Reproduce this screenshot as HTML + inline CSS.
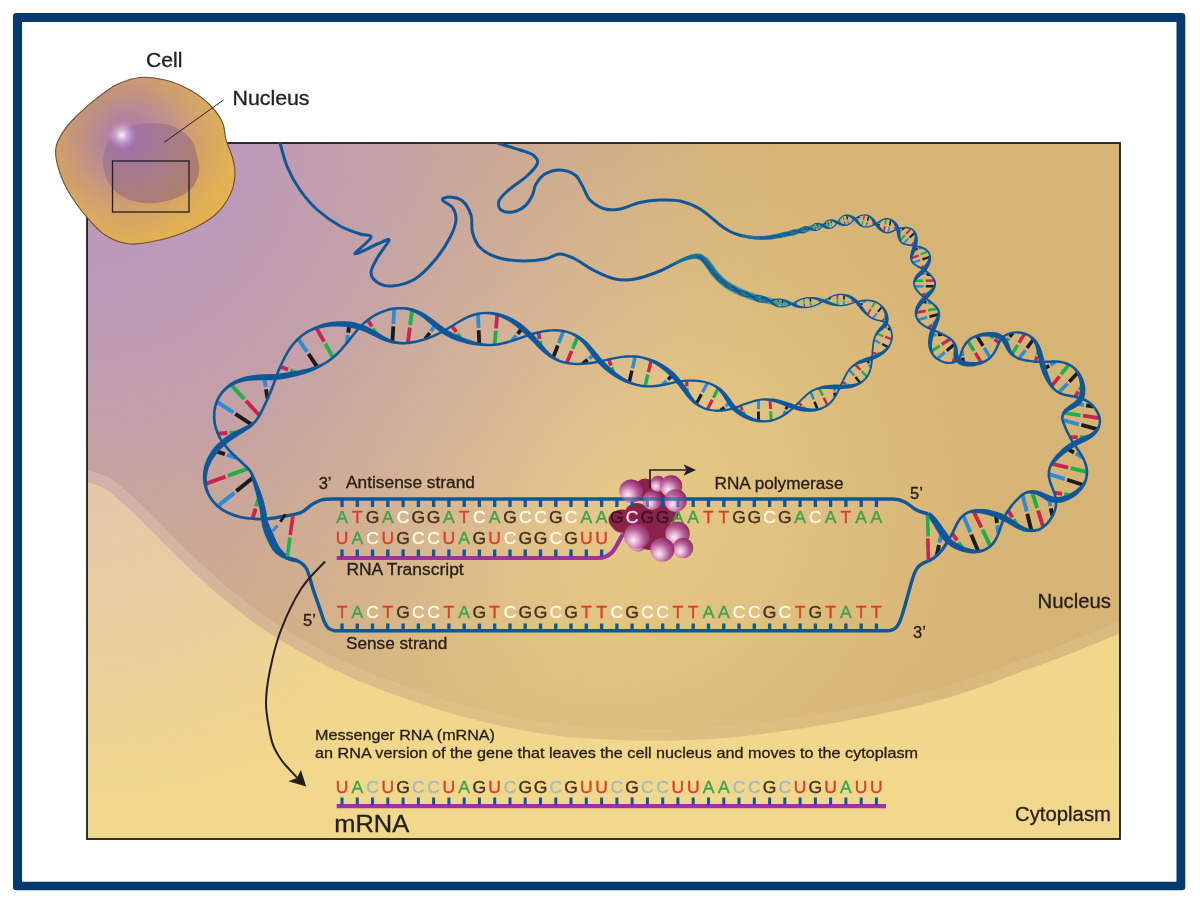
<!DOCTYPE html><html><head><meta charset="utf-8"><title>Transcription</title><style>html,body{margin:0;padding:0;background:#fff}body{width:1200px;height:900px;overflow:hidden}svg{display:block;opacity:.999;will-change:transform}text{font-family:"Liberation Sans",sans-serif}</style></head><body><svg width="1200" height="900" viewBox="0 0 1200 900"><defs><clipPath id="box"><rect x="87" y="143" width="1033" height="696"/></clipPath><linearGradient id="cyto" x1="0" y1="0" x2="0" y2="1"><stop offset="0" stop-color="#f0d488"/><stop offset="0.6" stop-color="#f0d68a"/><stop offset="1" stop-color="#f1d88d"/></linearGradient><radialGradient id="nuc" gradientUnits="userSpaceOnUse" cx="610" cy="500" r="640"><stop offset="0" stop-color="#e8ca87"/><stop offset="0.08" stop-color="#e6c885"/><stop offset="0.31" stop-color="#dfc07f"/><stop offset="0.39" stop-color="#dcbc7c"/><stop offset="0.61" stop-color="#d6b475"/><stop offset="1" stop-color="#d5b475"/></radialGradient><linearGradient id="bandg" gradientUnits="userSpaceOnUse" x1="87" y1="0" x2="1120" y2="0"><stop offset="0" stop-color="#ffeedd" stop-opacity="0.2"/><stop offset="0.3" stop-color="#ffeedd" stop-opacity="0.1"/><stop offset="0.55" stop-color="#ffeedd" stop-opacity="0.06"/><stop offset="1" stop-color="#ffe8d0" stop-opacity="0.12"/></linearGradient><radialGradient id="purp" gradientUnits="userSpaceOnUse" cx="87" cy="143" r="700"><stop offset="0" stop-color="#ae8ae0" stop-opacity="0.68"/><stop offset="0.25" stop-color="#ae8ae0" stop-opacity="0.61"/><stop offset="0.45" stop-color="#ae8ae0" stop-opacity="0.44"/><stop offset="0.52" stop-color="#ae8ae0" stop-opacity="0.36"/><stop offset="0.69" stop-color="#ae8ae0" stop-opacity="0.21"/><stop offset="0.88" stop-color="#ae8ae0" stop-opacity="0.05"/><stop offset="1" stop-color="#ae8ae0" stop-opacity="0"/></radialGradient><radialGradient id="cpink" gradientUnits="userSpaceOnUse" cx="87" cy="440" r="360"><stop offset="0" stop-color="#d7b5d5" stop-opacity="0.5"/><stop offset="0.5" stop-color="#d7b5d5" stop-opacity="0.28"/><stop offset="1" stop-color="#d7b5d5" stop-opacity="0"/></radialGradient><radialGradient id="cellg" gradientUnits="userSpaceOnUse" cx="128" cy="140" r="105"><stop offset="0" stop-color="#a673b4"/><stop offset="0.3" stop-color="#b88a9c"/><stop offset="0.62" stop-color="#d0a070"/><stop offset="1" stop-color="#e4b454"/></radialGradient><linearGradient id="cellsh" x1="0" y1="0" x2="1" y2="1"><stop offset="0" stop-color="#b08060" stop-opacity="0.35"/><stop offset="0.5" stop-color="#c09060" stop-opacity="0"/><stop offset="1" stop-color="#f0c040" stop-opacity="0.45"/></linearGradient><radialGradient id="cnuc" gradientUnits="userSpaceOnUse" cx="128" cy="138" r="85"><stop offset="0" stop-color="#9e70b2"/><stop offset="0.4" stop-color="#a4788f"/><stop offset="1" stop-color="#ab7b68"/></radialGradient><radialGradient id="hl"><stop offset="0" stop-color="#fff" stop-opacity="0.95"/><stop offset="0.35" stop-color="#f0d8f4" stop-opacity="0.6"/><stop offset="1" stop-color="#c090d0" stop-opacity="0"/></radialGradient><radialGradient id="sph" cx="0.36" cy="0.66" r="0.7"><stop offset="0" stop-color="#fdeef6"/><stop offset="0.25" stop-color="#e4b4d2"/><stop offset="0.62" stop-color="#b55a94"/><stop offset="1" stop-color="#8e2a64"/></radialGradient></defs><rect x="13" y="13" width="1172.3" height="877.3" rx="3.2" fill="#063a6f"/><rect x="22" y="22" width="1154.5" height="859.7" rx="0.6" fill="#fff"/><g clip-path="url(#box)"><rect x="87" y="143" width="1033" height="696" fill="url(#cyto)"/><rect x="87" y="143" width="1033" height="696" fill="url(#cpink)"/><path d="M45.2 462.4L51.9 465.5L58.8 468.8L65.7 472L72.4 475.1L78.7 478L84.5 480.6L89.5 482.6L93.8 484.1L97.1 485.2L99.7 486.1L102 487.1L104.9 488.7L108.3 491.1L112.2 494L116.2 497.4L120.5 501.1L124.9 505L129.2 509L133.5 513L137.9 517.2L142.3 521.6L146.8 526.1L151.3 530.6L155.9 535.1L160.4 539.6L164.9 544.2L169.4 548.7L173.9 553.3L178.5 557.9L183 562.3L187.5 566.5L191.8 570.7L196.2 574.7L200.6 578.7L205 582.7L209.4 586.6L213.9 590.6L218.5 594.5L223.1 598.3L227.7 602.1L232.3 605.9L236.9 609.5L241.5 613.1L246.1 616.7L250.7 620.1L255.3 623.5L259.9 626.8L264.5 630L269 633L273.4 635.8L277.6 638.4L282 641L286.5 643.7L291.2 646.4L296.2 649.4L301.4 652.4L306.9 655.6L312.7 658.8L318.6 662.1L324.8 665.3L331.3 668.4L338 671.6L344.9 674.7L351.8 677.8L358.8 680.8L365.6 683.6L372.4 686.4L379.2 689L386 691.6L392.7 694.1L399.5 696.5L406.2 698.9L412.9 701.2L419.7 703.5L426.4 705.7L433.2 707.9L440 710L446.8 712L453.5 714L460.3 715.9L467.1 717.7L473.9 719.4L480.6 721.1L487.3 722.7L494.1 724.3L500.8 725.8L507.6 727.3L514.4 728.7L521.2 730.1L528 731.3L534.7 732.5L541.2 733.5L547.8 734.5L554.5 735.4L561.5 736.2L568.9 736.9L576.9 737.6L585.3 738.3L594 738.8L602.8 739.3L611.3 739.7L619.6 740L627.5 740.2L635.2 740.4L642.7 740.5L650.2 740.6L657.6 740.6L665.1 740.5L672.7 740.4L680.4 740.2L688 740L695.6 739.7L703.2 739.4L710.7 739L718.1 738.5L725.3 737.9L732.5 737.3L739.6 736.6L746.9 735.8L754.3 734.9L762 734L769.9 733L777.8 731.9L785.8 730.8L793.8 729.6L801.8 728.4L809.7 727.1L817.6 725.8L825.5 724.5L833.4 723.2L841.3 721.8L849.1 720.3L856.9 718.8L864.6 717.3L872.3 715.7L880 714.1L887.8 712.4L895.5 710.7L903.4 708.9L911.5 707.1L919.6 705.1L927.6 703.2L935.5 701.1L943.1 699.1L950.4 697L957.3 694.8L964 692.6L970.6 690.4L977.2 688.2L983.8 685.8L990.5 683.5L997 681L1003.5 678.6L1010 676.1L1016.8 673.5L1024 670.8L1031.7 668L1039.8 665L1048.3 661.9L1057 658.8L1065.6 655.5L1074.2 652.2L1082.8 648.8L1091.4 645.3L1100.1 641.7L1108.6 638.1L1116.9 634.5L1124.7 631L1132.1 627.6L1139.1 624.2L1145.7 621L1152.2 617.7L1158.6 614.5L1165.1 611.3L1170 100L50 100Z" fill="url(#nuc)"/><path d="M45.2 462.4L51.9 465.5L58.8 468.8L65.7 472L72.4 475.1L78.7 478L84.5 480.6L89.5 482.6L93.8 484.1L97.1 485.2L99.7 486.1L102 487.1L104.9 488.7L108.3 491.1L112.2 494L116.2 497.4L120.5 501.1L124.9 505L129.2 509L133.5 513L137.9 517.2L142.3 521.6L146.8 526.1L151.3 530.6L155.9 535.1L160.4 539.6L164.9 544.2L169.4 548.7L173.9 553.3L178.5 557.9L183 562.3L187.5 566.5L191.8 570.7L196.2 574.7L200.6 578.7L205 582.7L209.4 586.6L213.9 590.6L218.5 594.5L223.1 598.3L227.7 602.1L232.3 605.9L236.9 609.5L241.5 613.1L246.1 616.7L250.7 620.1L255.3 623.5L259.9 626.8L264.5 630L269 633L273.4 635.8L277.6 638.4L282 641L286.5 643.7L291.2 646.4L296.2 649.4L301.4 652.4L306.9 655.6L312.7 658.8L318.6 662.1L324.8 665.3L331.3 668.4L338 671.6L344.9 674.7L351.8 677.8L358.8 680.8L365.6 683.6L372.4 686.4L379.2 689L386 691.6L392.7 694.1L399.5 696.5L406.2 698.9L412.9 701.2L419.7 703.5L426.4 705.7L433.2 707.9L440 710L446.8 712L453.5 714L460.3 715.9L467.1 717.7L473.9 719.4L480.6 721.1L487.3 722.7L494.1 724.3L500.8 725.8L507.6 727.3L514.4 728.7L521.2 730.1L528 731.3L534.7 732.5L541.2 733.5L547.8 734.5L554.5 735.4L561.5 736.2L568.9 736.9L576.9 737.6L585.3 738.3L594 738.8L602.8 739.3L611.3 739.7L619.6 740L627.5 740.2L635.2 740.4L642.7 740.5L650.2 740.6L657.6 740.6L665.1 740.5L672.7 740.4L680.4 740.2L688 740L695.6 739.7L703.2 739.4L710.7 739L718.1 738.5L725.3 737.9L732.5 737.3L739.6 736.6L746.9 735.8L754.3 734.9L762 734L769.9 733L777.8 731.9L785.8 730.8L793.8 729.6L801.8 728.4L809.7 727.1L817.6 725.8L825.5 724.5L833.4 723.2L841.3 721.8L849.1 720.3L856.9 718.8L864.6 717.3L872.3 715.7L880 714.1L887.8 712.4L895.5 710.7L903.4 708.9L911.5 707.1L919.6 705.1L927.6 703.2L935.5 701.1L943.1 699.1L950.4 697L957.3 694.8L964 692.6L970.6 690.4L977.2 688.2L983.8 685.8L990.5 683.5L997 681L1003.5 678.6L1010 676.1L1016.8 673.5L1024 670.8L1031.7 668L1039.8 665L1048.3 661.9L1057 658.8L1065.6 655.5L1074.2 652.2L1082.8 648.8L1091.4 645.3L1100.1 641.7L1108.6 638.1L1116.9 634.5L1124.7 631L1132.1 627.6L1139.1 624.2L1145.7 621L1152.2 617.7L1158.6 614.5L1165.1 611.3L1170 100L50 100Z" fill="url(#purp)"/><path d="M45.2 462.4L51.9 465.5L58.8 468.8L65.7 472L72.4 475.1L78.7 478L84.5 480.6L89.5 482.6L93.8 484.1L97.1 485.2L99.7 486.1L102 487.1L104.9 488.7L108.3 491.1L112.2 494L116.2 497.4L120.5 501.1L124.9 505L129.2 509L133.5 513L137.9 517.2L142.3 521.6L146.8 526.1L151.3 530.6L155.9 535.1L160.4 539.6L164.9 544.2L169.4 548.7L173.9 553.3L178.5 557.9L183 562.3L187.5 566.5L191.8 570.7L196.2 574.7L200.6 578.7L205 582.7L209.4 586.6L213.9 590.6L218.5 594.5L223.1 598.3L227.7 602.1L232.3 605.9L236.9 609.5L241.5 613.1L246.1 616.7L250.7 620.1L255.3 623.5L259.9 626.8L264.5 630L269 633L273.4 635.8L277.6 638.4L282 641L286.5 643.7L291.2 646.4L296.2 649.4L301.4 652.4L306.9 655.6L312.7 658.8L318.6 662.1L324.8 665.3L331.3 668.4L338 671.6L344.9 674.7L351.8 677.8L358.8 680.8L365.6 683.6L372.4 686.4L379.2 689L386 691.6L392.7 694.1L399.5 696.5L406.2 698.9L412.9 701.2L419.7 703.5L426.4 705.7L433.2 707.9L440 710L446.8 712L453.5 714L460.3 715.9L467.1 717.7L473.9 719.4L480.6 721.1L487.3 722.7L494.1 724.3L500.8 725.8L507.6 727.3L514.4 728.7L521.2 730.1L528 731.3L534.7 732.5L541.2 733.5L547.8 734.5L554.5 735.4L561.5 736.2L568.9 736.9L576.9 737.6L585.3 738.3L594 738.8L602.8 739.3L611.3 739.7L619.6 740L627.5 740.2L635.2 740.4L642.7 740.5L650.2 740.6L657.6 740.6L665.1 740.5L672.7 740.4L680.4 740.2L688 740L695.6 739.7L703.2 739.4L710.7 739L718.1 738.5L725.3 737.9L732.5 737.3L739.6 736.6L746.9 735.8L754.3 734.9L762 734L769.9 733L777.8 731.9L785.8 730.8L793.8 729.6L801.8 728.4L809.7 727.1L817.6 725.8L825.5 724.5L833.4 723.2L841.3 721.8L849.1 720.3L856.9 718.8L864.6 717.3L872.3 715.7L880 714.1L887.8 712.4L895.5 710.7L903.4 708.9L911.5 707.1L919.6 705.1L927.6 703.2L935.5 701.1L943.1 699.1L950.4 697L957.3 694.8L964 692.6L970.6 690.4L977.2 688.2L983.8 685.8L990.5 683.5L997 681L1003.5 678.6L1010 676.1L1016.8 673.5L1024 670.8L1031.7 668L1039.8 665L1048.3 661.9L1057 658.8L1065.6 655.5L1074.2 652.2L1082.8 648.8L1091.4 645.3L1100.1 641.7L1108.6 638.1L1116.9 634.5L1124.7 631L1132.1 627.6L1139.1 624.2L1145.7 621L1152.2 617.7L1158.6 614.5L1165.1 611.3L1170 100L50 100Z" fill="url(#bandg)"/><path d="M50 452C56.5 455 78.8 465.5 89 470C99.2 474.5 103 473.9 111 479C119 484.1 128.2 492.5 137 500.5C145.8 508.5 155 518.1 164 527C173 535.9 182.2 545.5 191 554C199.8 562.5 208.2 570.2 217 578C225.8 585.8 235 593.4 244 600.5C253 607.6 262.2 614.5 271 620.5C279.8 626.5 287.2 630.8 297 636.5C306.8 642.2 317.8 648.9 330 655C342.2 661.1 356.7 667.5 370 673C383.3 678.5 396.7 683.3 410 688C423.3 692.7 436.7 697.1 450 701C463.3 704.9 476.7 708.3 490 711.5C503.3 714.7 516.7 717.7 530 720C543.3 722.3 555 724.1 570 725.5C585 726.9 604.2 727.9 620 728.5C635.8 729.1 650 729.2 665 729C680 728.8 695.3 728.4 710 727.5C724.7 726.6 738 725.2 753 723.5C768 721.8 784.3 719.4 800 717C815.7 714.6 831.5 711.9 847 709C862.5 706.1 877.5 703 893 699.5C908.5 696 925.5 692.1 940 688C954.5 683.9 966.7 679.7 980 675C993.3 670.3 1005 665.6 1020 660C1035 654.4 1053.3 648.1 1070 641.5C1086.7 634.9 1105 627.2 1120 620.5C1135 613.8 1153.3 604.2 1160 601L1170 100L50 100Z" fill="url(#nuc)"/><path d="M50 452C56.5 455 78.8 465.5 89 470C99.2 474.5 103 473.9 111 479C119 484.1 128.2 492.5 137 500.5C145.8 508.5 155 518.1 164 527C173 535.9 182.2 545.5 191 554C199.8 562.5 208.2 570.2 217 578C225.8 585.8 235 593.4 244 600.5C253 607.6 262.2 614.5 271 620.5C279.8 626.5 287.2 630.8 297 636.5C306.8 642.2 317.8 648.9 330 655C342.2 661.1 356.7 667.5 370 673C383.3 678.5 396.7 683.3 410 688C423.3 692.7 436.7 697.1 450 701C463.3 704.9 476.7 708.3 490 711.5C503.3 714.7 516.7 717.7 530 720C543.3 722.3 555 724.1 570 725.5C585 726.9 604.2 727.9 620 728.5C635.8 729.1 650 729.2 665 729C680 728.8 695.3 728.4 710 727.5C724.7 726.6 738 725.2 753 723.5C768 721.8 784.3 719.4 800 717C815.7 714.6 831.5 711.9 847 709C862.5 706.1 877.5 703 893 699.5C908.5 696 925.5 692.1 940 688C954.5 683.9 966.7 679.7 980 675C993.3 670.3 1005 665.6 1020 660C1035 654.4 1053.3 648.1 1070 641.5C1086.7 634.9 1105 627.2 1120 620.5C1135 613.8 1153.3 604.2 1160 601L1170 100L50 100Z" fill="url(#purp)"/></g><rect x="87" y="143" width="1033" height="696" fill="none" stroke="#1f1b1a" stroke-width="1.8"/><g clip-path="url(#box)"><path d="M280 143C281.2 147.1 284.2 159.7 287.5 167.5C290.8 175.3 295 182.9 300 190C305 197.1 310.8 204 317.5 210C324.2 216 332.9 222 340 226C347.1 230 354.8 232.1 360 234C365.2 235.9 371.8 234.2 371 237.5C370.2 240.8 353.9 252.9 355 254C356.1 255.1 371.8 246.3 377.5 244C383.2 241.7 389 237.8 389 240C389 242.2 380.5 252.1 377.5 257.5C374.5 262.9 371 268.3 371 272.5C371 276.7 373.9 280.2 377.5 282.5C381.1 284.8 386.2 286.6 392.5 286C398.8 285.4 407.9 283.3 415 279C422.1 274.7 429.2 266.9 435 260C440.8 253.1 446.5 244.2 450 237.5C453.5 230.8 455.6 225 456 220C456.4 215 454.8 210.8 452.5 207.5C450.2 204.2 442.9 201.8 442.5 200C442.1 198.2 446.7 196.8 450 197C453.3 197.2 459 198 462.5 201C466 204 469.3 209.8 471 215C472.7 220.2 471 227.1 472.5 232.5C474 237.9 475.8 243.3 480 247.5C484.2 251.7 490.4 255.2 497.5 257.5C504.6 259.8 514.6 260.8 522.5 261C530.4 261.2 538.8 260.2 545 259C551.2 257.8 555 254 560 254C565 254 569.2 256.2 575 259C580.8 261.8 588.3 267.7 595 271C601.7 274.3 608.3 277.7 615 279C621.7 280.3 627.5 280.3 635 279C642.5 277.7 652.5 274 660 271C667.5 268 674.7 263.4 680 261C685.3 258.6 688.8 257.6 692 256.8C695.2 256.1 696.8 255.9 699 256.5C701.2 257.1 703.2 258.8 705 260.5C706.8 262.2 709.2 265.9 710 267" fill="none" stroke="#0f5799" stroke-width="3" stroke-linecap="round" stroke-linejoin="round"/><path d="M497.5 143C501.2 144.2 514.1 148 520 150C525.9 152 530.1 152.8 533 155C535.9 157.2 538.4 159.6 537.5 163C536.6 166.4 532.5 170.8 527.5 175.5C522.5 180.2 512.2 186.8 507.5 191C502.8 195.2 500.1 197.8 499 201C497.9 204.2 498.8 208.2 501 210C503.2 211.8 508.5 212.7 512.5 212C516.5 211.3 521.7 208.8 525 206C528.3 203.2 530.7 198.7 532.5 195C534.3 191.3 533.9 187.5 536 184C538.1 180.5 541 176.3 545 174C549 171.7 555 169.8 560 170C565 170.2 571.2 172.3 575 175C578.8 177.7 580 181.8 582.5 186C585 190.2 586.2 196.2 590 200C593.8 203.8 600 207.5 605 209C610 210.5 614.2 210.1 620 209C625.8 207.9 633.3 204 640 202.5C646.7 201 653.3 200.2 660 200C666.7 199.8 673.3 199.5 680 201C686.7 202.5 693.3 205 700 209C706.7 213 715 221.2 720 225C725 228.8 726.7 229.8 730 231.5C733.3 233.2 736.7 234.4 740 235.3C743.3 236.2 746.7 236.8 750 237.2C753.3 237.6 758.3 237.9 760 238" fill="none" stroke="#0f5799" stroke-width="3" stroke-linecap="round" stroke-linejoin="round"/><path d="M744.3 296.4L746.8 297.3L749.3 298.1L751.7 299.1L754.3 300L756.8 300.9L759.3 301.8L761.8 302.6L764.3 303.4L766.7 304.2L769.1 304.9L771.4 305.5L773.6 306L775.7 306.5L777.8 307L779.9 307.4L782.1 307.8L784.3 308.1L786.7 308.4L789.2 308.6L792 308.7L795 308.7L798.1 308.6L801.4 308.4L804.7 308.1L808.1 307.8L811.5 307.5L814.9 307.1L818.1 306.9L821.3 306.6L824.2 306.5L827.1 306.2L829.9 306L832.7 305.9L835.5 305.7L838.2 305.6L840.9 305.5L843.7 305.4L846.4 305.3L849.2 305.1L852 305L852 298L849.2 297.8L846.5 297.7L843.8 297.5L841.1 297.3L838.3 297.1L835.5 296.9L832.7 296.8L829.8 296.6L826.8 296.6L823.8 296.5L820.6 296.7L817.3 297L813.9 297.3L810.5 297.7L807.1 298.1L803.8 298.4L800.6 298.8L797.5 299L794.7 299.2L792 299.3L789.6 299.3L787.3 299.2L785.2 299.1L783.2 299L781.2 298.8L779.3 298.5L777.3 298.2L775.3 297.9L773.1 297.5L770.9 297.1L768.5 296.7L766.1 296.3L763.7 295.8L761.2 295.2L758.6 294.6L756 294L753.4 293.4L750.8 292.8L748.3 292.2L745.7 291.6Z" fill="#9fc07c" opacity="0.38"/><path d="M676.6 264.4L677.5 264L678.3 263.7L679.1 263.3L679.9 263L680.7 262.6L681.5 262.3L682.3 261.9L683.1 261.6L683.9 261.3L684.7 261.1L685.5 260.8L686.3 260.6L687.1 260.4L687.9 260.1L688.7 259.9L689.5 259.7L690.3 259.6L691 259.4L691.8 259.3L692.5 259.3L693.2 259.2L693.9 259.1L694.6 259.1L695.2 259L695.8 259L696.4 259.1L696.9 259.1L697.4 259.2L697.8 259.3L698.2 259.5L698.5 259.7L698.9 259.9L699.3 260.1L699.8 260.4L700.2 260.8L700.7 261.2L701.2 261.6L701.6 262L702.1 262.5L702.6 263L703 263.5L703.3 263.9L703.7 264.4L704.1 265L704.6 265.6L705 266.3L705.4 267L705.9 267.7L706.5 268.5L707 269.2L707.5 269.9L708 270.7L708.5 271.4L709.1 272.2L709.7 273.1L710.3 273.9L710.9 274.8L711.6 275.7L712.4 276.6L713.2 277.5L714 278.4L714.8 279.3L715.6 280.2L716.5 281.1L717.5 282L718.5 283L719.5 283.9L720.5 284.8L721.6 285.7L722.7 286.6L723.9 287.4L725.1 288.2L726.3 289L727.5 289.7L728.7 290.4L730 291.2L731.3 291.9L732.6 292.6L734 293.3L735.4 293.9L736.8 294.6L738.2 295.2L739.7 295.9L741.2 296.5L742.7 297.1L744.3 297.7L745.9 298.3L747.5 298.9L749.2 299.5L750.9 300L752.6 300.5L754.4 301L756.2 301.5L758 301.9L759.8 302.3L761.7 302.7L763.6 303.1L765.5 303.5L767.4 303.9L769.4 304.2L771.4 304.4L773.4 304.6L775.4 304.8L777.5 305L779.5 305.1L781.6 305.2L783.6 305.4L785.7 305.5L787.7 305.6L789.7 305.8L790.3 301.8L788.3 301.4L786.3 301L784.2 300.7L782.2 300.3L780.2 299.9L778.2 299.5L776.3 299.1L774.3 298.7L772.5 298.3L770.6 297.8L768.8 297.4L766.9 297L765.1 296.5L763.3 296.1L761.5 295.6L759.8 295.1L758.1 294.6L756.4 294.1L754.7 293.5L753.1 293L751.5 292.4L750 291.9L748.5 291.3L747 290.8L745.5 290.2L744.1 289.6L742.7 289L741.3 288.3L740 287.7L738.6 287.1L737.4 286.4L736.1 285.8L734.9 285.2L733.7 284.5L732.5 283.9L731.4 283.2L730.3 282.5L729.3 281.8L728.2 281.2L727.3 280.4L726.3 279.7L725.4 279L724.5 278.2L723.6 277.4L722.8 276.6L721.9 275.8L721.1 274.9L720.3 274.1L719.6 273.3L718.8 272.5L718.2 271.7L717.6 271L717 270.2L716.4 269.5L715.8 268.7L715.3 267.9L714.7 267.1L714.2 266.3L713.6 265.5L713 264.8L712.5 264.1L712 263.4L711.5 262.8L711 262.1L710.4 261.4L709.9 260.7L709.3 260L708.7 259.3L708.1 258.6L707.4 258L706.8 257.4L706.1 256.9L705.5 256.4L704.8 255.9L704 255.4L703.3 254.9L702.5 254.5L701.6 254.1L700.8 253.8L699.8 253.5L698.9 253.4L698 253.3L697.1 253.3L696.2 253.3L695.4 253.5L694.6 253.6L693.8 253.8L693 253.9L692.3 254.1L691.5 254.3L690.7 254.6L689.9 254.8L689.1 255.1L688.2 255.4L687.4 255.7L686.6 256.1L685.7 256.4L684.9 256.8L684.1 257.2L683.3 257.5L682.5 257.9L681.7 258.3L680.9 258.7L680.1 259.1L679.3 259.5L678.5 260L677.7 260.4L676.9 260.8L676.1 261.2L675.4 261.6Z" fill="#3f9a8c" opacity="0.9"/><path d="M676.6 264.3L677.4 263.9L678.2 263.5L679 263.2L679.9 262.8L680.7 262.4L681.5 262.1L682.3 261.8L683 261.4L683.8 261.1L684.6 260.8L685.4 260.6L686.2 260.3L687 260L687.8 259.8L688.6 259.6L689.4 259.4L690.2 259.2L690.9 259L691.7 258.9L692.4 258.8L693.1 258.7L693.8 258.6L694.5 258.5L695.2 258.5L695.8 258.4L696.4 258.4L696.9 258.5L697.4 258.6L697.9 258.7L698.3 258.8L698.8 259L699.2 259.2L699.7 259.5L700.2 259.8L700.7 260.1L701.2 260.5L701.7 261L702.2 261.4L702.7 261.9L703.2 262.4L703.6 262.9L704 263.4L704.4 263.9L704.9 264.5L705.3 265.1L705.8 265.7L706.2 266.4L706.7 267.1L707.3 267.9L707.8 268.6L708.3 269.4L708.8 270.1L709.4 270.8L709.9 271.6L710.5 272.5L711.1 273.3L711.8 274.2L712.4 275.1L713.2 276L714 276.8L714.8 277.7L715.6 278.6L716.4 279.4L717.3 280.3L718.2 281.2L719.2 282.2L720.2 283L721.2 283.9L722.3 284.8L723.4 285.6L724.6 286.4L725.7 287.2L726.9 287.9L728.1 288.6L729.4 289.3L730.6 290L731.9 290.7L733.2 291.4L734.6 292L736 292.7L737.4 293.3L738.8 293.9L740.3 294.5L741.8 295.1L743.3 295.7L744.9 296.3L746.4 296.8L748.1 297.4L749.7 297.9L751.4 298.4L753.1 298.9L754.9 299.3L756.7 299.7L758.6 300.1L760.4 300.4L762.3 300.8L764.2 301.2L766 301.5L767.9 301.9L769.7 302.3L770.3 299.7L768.5 299.2L766.7 298.7L764.8 298.2L763 297.7L761.2 297.2L759.4 296.7L757.6 296.2L755.9 295.7L754.2 295.2L752.6 294.6L751 294L749.5 293.5L747.9 292.9L746.4 292.2L744.9 291.6L743.5 291L742.1 290.3L740.7 289.7L739.4 289L738 288.3L736.7 287.7L735.5 287L734.2 286.3L733.1 285.7L731.9 285L730.8 284.3L729.7 283.6L728.6 282.8L727.6 282.1L726.6 281.4L725.6 280.6L724.7 279.8L723.8 279L722.9 278.2L722 277.4L721.2 276.5L720.3 275.7L719.5 274.8L718.8 274L718 273.2L717.4 272.4L716.7 271.6L716.1 270.9L715.6 270.1L715 269.3L714.4 268.5L713.9 267.7L713.3 266.9L712.8 266.1L712.2 265.4L711.7 264.7L711.2 264L710.7 263.3L710.2 262.6L709.7 261.9L709.2 261.2L708.6 260.6L708.1 259.9L707.5 259.2L706.8 258.6L706.2 258L705.6 257.5L704.9 257L704.3 256.5L703.6 256L702.9 255.6L702.1 255.1L701.3 254.8L700.5 254.4L699.7 254.2L698.8 254L697.9 253.9L697.1 253.9L696.3 254L695.5 254.1L694.7 254.2L693.9 254.3L693.1 254.5L692.4 254.7L691.6 254.8L690.8 255L690 255.3L689.2 255.5L688.3 255.8L687.5 256.1L686.7 256.4L685.8 256.7L685 257.1L684.2 257.4L683.4 257.8L682.6 258.1L681.8 258.5L680.9 258.9L680.1 259.3L679.3 259.7L678.5 260.1L677.8 260.5L677 260.9L676.2 261.3L675.4 261.7Z" fill="#17679a" opacity="0.85"/><path d="M259.2 496.6L256.3 506.3M247.7 468.7L227.8 475.9" stroke="#1bb14b" stroke-width="4" fill="none"/><path d="M252.7 518.3L255.6 508.6M205.7 483.9L225.5 476.7" stroke="#c9254f" stroke-width="4" fill="none"/><path d="M252.8 477.8L236.3 491.1M215.6 451.2L224.9 454.1" stroke="#1c1a1a" stroke-width="4" fill="none"/><path d="M218.1 505.9L234.5 492.6M236.5 457.9L227.2 454.9" stroke="#2e8bd6" stroke-width="4" fill="none"/><path d="M218.3 433.6L227.2 433M259.1 415L246 400.9" stroke="#c9254f" stroke-width="3.9" fill="none"/><path d="M238.4 432.3L229.5 432.9M231.3 385.1L244.4 399.2" stroke="#1bb14b" stroke-width="3.9" fill="none"/><path d="M217.2 402L233.3 412.5M264.2 377.7L265.7 386.9" stroke="#2e8bd6" stroke-width="3.9" fill="none"/><path d="M251.4 424.3L235.3 413.8M267.5 398.5L266 389.3" stroke="#1c1a1a" stroke-width="3.9" fill="none"/><path d="M297.6 373L290.3 370.3M332.9 357.1L325.3 343.7" stroke="#1bb14b" stroke-width="3.9" fill="none"/><path d="M280.8 366.8L288.1 369.5M316.5 328.2L324.1 341.6" stroke="#c9254f" stroke-width="3.9" fill="none"/><path d="M317.1 366.7L308.5 353.9M349.3 325L348.2 332.7" stroke="#1c1a1a" stroke-width="3.9" fill="none"/><path d="M298.4 339.2L307.1 351.9M346.9 342.6L347.9 334.9" stroke="#2e8bd6" stroke-width="3.9" fill="none"/><path d="M368 320.4L371.9 326.6M407.9 342.4L409.8 327.6" stroke="#c9254f" stroke-width="3.8" fill="none"/><path d="M376.9 334.6L373 328.4M412 310.4L410.1 325.2" stroke="#1bb14b" stroke-width="3.8" fill="none"/><path d="M394.2 309.1L393.4 324M435.3 325.3L430.9 331.2" stroke="#2e8bd6" stroke-width="3.8" fill="none"/><path d="M392.4 341.3L393.3 326.4M425.2 338.8L429.7 332.9" stroke="#1c1a1a" stroke-width="3.8" fill="none"/><path d="M461.4 339.3L457.4 333.7M494.7 344.2L495.9 330.7" stroke="#1bb14b" stroke-width="3.8" fill="none"/><path d="M452.2 326.4L456.3 332M497.2 314.9L496.1 328.4" stroke="#c9254f" stroke-width="3.8" fill="none"/><path d="M479.2 343.7L478.7 330.2M522.1 328.6L517.7 333.8" stroke="#1c1a1a" stroke-width="3.8" fill="none"/><path d="M478 314.3L478.6 327.8M512 340.5L516.4 335.4" stroke="#2e8bd6" stroke-width="3.8" fill="none"/><path d="M538.5 332.8L539.7 339M566.8 362.5L571.7 350.9" stroke="#c9254f" stroke-width="3.7" fill="none"/><path d="M541.3 347L540.1 340.8M577.5 337.1L572.6 348.7" stroke="#1bb14b" stroke-width="3.7" fill="none"/><path d="M563.2 331.5L558.7 343.2M594 354.7L589.1 358.6" stroke="#2e8bd6" stroke-width="3.7" fill="none"/><path d="M553.3 357.2L557.8 345.5M582.6 363.6L587.6 359.7" stroke="#1c1a1a" stroke-width="3.7" fill="none"/><path d="M613.7 373.2L611.6 367.4M645.2 385.8L647.8 374.5" stroke="#1bb14b" stroke-width="3.5" fill="none"/><path d="M609 359.9L611.1 365.7M651.1 360.9L648.4 372.2" stroke="#c9254f" stroke-width="3.5" fill="none"/><path d="M629.3 381.9L631.9 370.6M672.3 375.4L668 379.5" stroke="#1c1a1a" stroke-width="3.5" fill="none"/><path d="M635.1 357L632.5 368.3M662.3 384.8L666.7 380.7" stroke="#2e8bd6" stroke-width="3.5" fill="none"/><path d="M686.6 381.2L686.9 386.4M707.6 408.9L712.3 399.8" stroke="#c9254f" stroke-width="3.2" fill="none"/><path d="M687.4 393.1L687 387.9M718 388.7L713.4 397.7" stroke="#1bb14b" stroke-width="3.2" fill="none"/><path d="M707.3 383.2L702.5 392.2M729.4 403L725.5 406.2" stroke="#2e8bd6" stroke-width="3.2" fill="none"/><path d="M696.5 403.3L701.4 394.3M720.5 410.4L724.4 407.2" stroke="#1c1a1a" stroke-width="3.2" fill="none"/><path d="M745.2 415.9L743.2 411.7M771.2 420.1L770.7 411.4" stroke="#1bb14b" stroke-width="2.9" fill="none"/><path d="M740.6 406.3L742.6 410.5M770 400.2L770.6 409" stroke="#c9254f" stroke-width="2.9" fill="none"/><path d="M758.4 420.4L758.5 411.6M787.7 405.2L785.9 409.4" stroke="#1c1a1a" stroke-width="2.9" fill="none"/><path d="M758.5 400.5L758.5 409.2M783.7 414.9L785.4 410.7" stroke="#2e8bd6" stroke-width="2.9" fill="none"/><path d="M798.9 403.1L801.9 405.8M827.2 404.7L823.8 397.7" stroke="#c9254f" stroke-width="2.6" fill="none"/><path d="M805.8 409.5L802.8 406.7M819.3 388.6L822.8 395.6" stroke="#1bb14b" stroke-width="2.6" fill="none"/><path d="M810.7 392.3L813.7 399.6M834.4 387.4L834.6 391.4" stroke="#2e8bd6" stroke-width="2.6" fill="none"/><path d="M817.5 409.1L814.5 401.8M834.8 396.6L834.7 392.6" stroke="#1c1a1a" stroke-width="2.6" fill="none"/><path d="M850.3 385.9L847 384.3M866.7 376.3L861.8 371.2" stroke="#1bb14b" stroke-width="2.4" fill="none"/><path d="M842.8 382.3L846 383.9M855.5 364.8L860.4 369.8" stroke="#c9254f" stroke-width="2.4" fill="none"/><path d="M859.9 382.5L855.4 377.1M867.5 360L868.8 363.2" stroke="#1c1a1a" stroke-width="2.4" fill="none"/><path d="M849.5 370.1L854 375.5M870.6 367.5L869.3 364.2" stroke="#2e8bd6" stroke-width="2.4" fill="none"/><path d="M872.8 353.1L876.2 353.3M891.3 339.1L885.1 336.8" stroke="#c9254f" stroke-width="2.2" fill="none"/><path d="M880.6 353.6L877.3 353.4M877 333.9L883.3 336.1" stroke="#1bb14b" stroke-width="2.2" fill="none"/><path d="M874.4 340.2L880.3 343.1M884.2 326.4L887 328" stroke="#2e8bd6" stroke-width="2.2" fill="none"/><path d="M888 347L882.1 344M890.6 330L887.9 328.4" stroke="#1c1a1a" stroke-width="2.2" fill="none"/><path d="M886 314.8L884.6 317.4M875 302.2L871.8 307.5" stroke="#1bb14b" stroke-width="1.9" fill="none"/><path d="M882.8 321L884.2 318.3M867.7 314.4L870.8 309.1" stroke="#c9254f" stroke-width="1.9" fill="none"/><path d="M881.7 307L877.9 311.8M860 305.2L862.5 303.3" stroke="#1c1a1a" stroke-width="1.9" fill="none"/><path d="M873 318.2L876.8 313.3M865.7 300.7L863.2 302.6" stroke="#2e8bd6" stroke-width="1.9" fill="none"/><path d="M853.1 302.4L852.2 300.4M837.3 295.2L837.4 299.4" stroke="#c9254f" stroke-width="1.7" fill="none"/><path d="M851 297.8L851.9 299.8M837.5 304.8L837.4 300.6" stroke="#1bb14b" stroke-width="1.7" fill="none"/><path d="M843.8 304.9L843.9 300.7M827.7 302L828.8 300.1" stroke="#2e8bd6" stroke-width="1.7" fill="none"/><path d="M844.1 295.3L844 299.5M830.2 297.6L829.1 299.5" stroke="#1c1a1a" stroke-width="1.7" fill="none"/><path d="M817.3 299.2L818.6 300.6M803.7 298.9L804 302.4" stroke="#1bb14b" stroke-width="1.5" fill="none"/><path d="M820.4 302.4L819.1 301M804.5 307L804.2 303.5" stroke="#c9254f" stroke-width="1.5" fill="none"/><path d="M810.2 298.3L810.5 301.8M795.2 304.9L796.1 303.4" stroke="#1c1a1a" stroke-width="1.5" fill="none"/><path d="M811 306.4L810.6 302.9M797.3 301.3L796.4 302.8" stroke="#2e8bd6" stroke-width="1.5" fill="none"/><path d="M789.1 304.7L788.4 303.6M778.5 299.6L778.1 302.2" stroke="#c9254f" stroke-width="1.3" fill="none"/><path d="M787.4 302L788.1 303.1M777.5 305.7L777.9 303.1" stroke="#1bb14b" stroke-width="1.3" fill="none"/><path d="M781.9 306.4L782.3 303.7M772 302.2L772.9 301.3" stroke="#2e8bd6" stroke-width="1.3" fill="none"/><path d="M782.8 300.2L782.4 302.8M774 300L773.2 300.9" stroke="#1c1a1a" stroke-width="1.3" fill="none"/><path d="M766.7 298.9L767.1 299.8M759.4 296.2L758.9 298.1" stroke="#1bb14b" stroke-width="1" fill="none"/><path d="M767.7 301.1L767.3 300.2M758.2 300.8L758.7 298.8" stroke="#c9254f" stroke-width="1" fill="none"/><path d="M762.9 297.1L762.5 299M753.8 297.6L754.5 297" stroke="#1c1a1a" stroke-width="1" fill="none"/><path d="M761.9 301.7L762.3 299.7M755.4 296.2L754.8 296.7" stroke="#2e8bd6" stroke-width="1" fill="none"/><path d="M750 296.2L749.7 295.5M743.3 291.4L742.7 292.8" stroke="#c9254f" stroke-width="0.9" fill="none"/><path d="M749.4 294.5L749.6 295.2M742 294.7L742.5 293.3" stroke="#1bb14b" stroke-width="0.9" fill="none"/><path d="M745 295.9L745.5 294.5M738.5 291.6L739.1 291.2" stroke="#2e8bd6" stroke-width="0.9" fill="none"/><path d="M746.3 292.6L745.7 294M739.9 290.8L739.3 291.1" stroke="#1c1a1a" stroke-width="0.9" fill="none"/><path d="M735 288.7L735.1 289.1M730.1 285.3L729.6 286.2" stroke="#1bb14b" stroke-width="0.8" fill="none"/><path d="M735.3 289.9L735.2 289.4M728.8 287.5L729.3 286.6" stroke="#c9254f" stroke-width="0.8" fill="none"/><path d="M732.5 286.7L731.9 287.6M726.2 284.6L726.6 284.4" stroke="#1c1a1a" stroke-width="0.8" fill="none"/><path d="M731.2 288.9L731.7 288M727.3 284.2L726.9 284.3" stroke="#2e8bd6" stroke-width="0.8" fill="none"/><path d="M723.7 282.6L723.6 282.3M719.9 278.4L719.4 278.9" stroke="#c9254f" stroke-width="0.7" fill="none"/><path d="M723.6 281.8L723.6 282.1M718.7 279.8L719.2 279.2" stroke="#1bb14b" stroke-width="0.7" fill="none"/><path d="M720.5 281.3L721 280.7M717 277.1L717.2 277" stroke="#2e8bd6" stroke-width="0.7" fill="none"/><path d="M721.7 279.8L721.2 280.4M717.7 277L717.4 277" stroke="#1c1a1a" stroke-width="0.7" fill="none"/><path d="M715 274.4L715 274.6M712.1 270.8L711.7 271.1M705.1 263.5L705.3 263.3" stroke="#1bb14b" stroke-width="0.6" fill="none"/><path d="M715 275L715 274.8M711.1 271.6L711.5 271.3M705.6 263L705.4 263.2" stroke="#c9254f" stroke-width="0.6" fill="none"/><path d="M713.5 272.4L713.1 272.7M706.8 264.6L706.6 264.7" stroke="#1c1a1a" stroke-width="0.6" fill="none"/><path d="M712.5 273.2L712.9 272.9M706.3 265L706.5 264.8" stroke="#2e8bd6" stroke-width="0.6" fill="none"/><path d="M267.1 518.7L266.5 513L265.3 507L263.8 501.1L262 495.3L260.1 489.9L258.2 484.9L256.4 480.5L254.8 476.9L253.5 474.1L252.4 471.9L251 469.9L249.1 467.6L246.8 465.3L244.1 462.8L241.1 460L237.9 457L234.4 453.7L230.9 450.2L227.4 446.3L224.1 442.2L221.4 437.9L219 433.1L217.2 428.1L216 422.9L215.5 417.5L215.6 412.3L216.4 407.1L218 402.2L220.2 397.6L223.2 393.3L227.2 389.3L231.9 386.1L236.8 383.8L242 382.1L247.4 381.1L252.9 380.5L258.5 380.2L264.2 380.2L270.1 380.2L276.2 380L282 379.2L287.7 378.2L293.2 377.1L298.7 375.7L303.9 374.2L308.9 372.5L313.6 370.7L318.1 368.6L322.1 366.5L326.1 364.1L330 361.5L333.9 358.5L337.6 355.2L341.2 351.6L344.5 347.8L347.8 343.9L351 339.8L354.2 335.8L357.5 331.8L360.9 327.9L364.6 324.3L368.5 321L372.7 318.1L377.1 315.6L381.5 313.5L385.9 311.8L390.2 310.6L394.4 309.8L398.5 309.4L402.6 309.4L407.1 310.1L411.5 311.4L415.7 313.3L419.5 315.5L423.2 318.1L426.7 320.9L430.2 324L433.8 327.1L437.7 330.3L441.9 333.4L446.4 336.1L451.2 338.4L456 340.4L460.9 342.1L465.7 343.4L470.3 344.5L474.8 345.3L479 345.8L482.9 346.1L486.7 346.2L490.6 346.2L494.8 346L499 345.4L503.3 344.5L507.7 343.4L512.1 342.1L516.5 340.7L521 339.1L525.4 337.5L529.9 336L534.3 334.7L538.7 333.5L543 332.6L547.3 332L551.5 331.6L555.6 331.5L559.5 331.7L563.2 332.2L566.7 333L570.2 334.2L573.6 335.9L576.9 338L579.8 340.4L582.4 343.1L584.9 346.1L587.3 349.2L589.7 352.6L592.2 356L594.9 359.6L597.9 363.2L601.3 366.5L604.8 369.8L608.5 372.8L612.4 375.6L616.4 378.1L620.5 380.3L624.5 382.2L628.6 383.8L632.5 385.1L636.5 386.1L640.7 387L645 387.5L649.3 387.6L653.6 387.4L657.9 387L662.1 386.3L666.3 385.4L670.5 384.5L674.6 383.5L678.7 382.6L682.7 382.1L686.6 381.8L690.5 381.7L694.2 381.8L697.8 382.1L701.2 382.5L704.4 383.1L707.3 383.9L709.9 384.8L712.4 385.9L715 387.5L717.4 389.4L719.4 391.5L721.2 393.7L722.8 396.1L724.4 398.7L726 401.3L727.7 404.1L729.7 407L732.2 409.7L735 412.2L737.9 414.5L741.1 416.5L744.4 418.3L747.8 419.7L751.3 420.9L754.8 421.7L758.2 422.3L761.5 422.5L764.8 422.5L768.2 422.2L771.5 421.7L774.8 420.8L778 419.5L781.1 418L784.1 416.3L787 414.4L789.7 412.3L792.3 410.1L794.7 407.7L797 405.6L799.2 403.4L801.3 401.3L803.3 399.3L805.3 397.4L807.2 395.7L809.1 394.1L811.1 392.7L813.1 391.5L815.1 390.5L817.2 389.8L819.4 389.4L821.7 389.1L824 388.9L826.5 388.9L829 388.9L831.6 389L834.4 389.2L837.1 389.3L840 389.2L842.8 389.1L845.6 388.8L848.4 388.5L851.1 387.9L853.7 387.2L856.2 386.3L858.6 385.2L860.8 383.9L862.8 382.4L864.7 380.8L866.4 379.1L867.9 377.2L869.1 375.1L870.2 372.9L871.1 370.6L871.7 368.1L872.2 365.7L872.6 363.1L872.8 360.6L872.9 358.1L873 355.6L873.2 353.1L873.4 350.7L873.6 348.3L873.8 346L874.1 343.9L874.4 341.9L874.8 340.2L875.2 338.6L875.8 337.1L876.5 335.7L877.5 334.3L878.6 333.1L879.8 332L881.1 331L882.4 329.9L883.8 328.8L885.3 327.5L886.7 325.9L887.7 323.8L888.4 321.4L888.7 318.9L888.4 316.4L887.8 313.9L886.9 311.6L885.7 309.4L884.3 307.5L882.8 305.9L881.2 304.4L879.5 303.2L877.6 302L875.5 301L873.2 300.3L870.9 299.8L868.5 299.6L866 299.6L863.6 299.7L861.2 300.1L858.9 300.6L856.8 301.3L854.9 301.7L853.1 302.2L851.4 302.7L849.8 303.2L848.2 303.7L846.7 304.1L845.2 304.5L843.7 304.7L842.1 304.9L840.6 304.9L839.1 304.7L837.6 304.4L836.2 304L834.6 303.5L833 303L831.4 302.3L829.8 301.7L828.1 300.9L826.4 300.2L824.5 299.6L822.7 299L820.9 298.4L819.1 297.9L817.3 297.5L815.5 297.2L813.7 297L811.9 296.9L810.1 296.9L808.4 297L806.8 297.2L805.1 297.4L803.5 297.8L801.8 298.3L800.3 298.8L798.7 299.5L797.2 300.3L795.8 301L794.4 301.8L793 302.7L791.7 303.5L790.4 304.1L789.1 304.6L787.8 305.1L786.6 305.5L785.3 305.8L784.1 306L783 306.2L781.8 306.3L780.7 306.3L779.7 306.2L778.6 305.9L777.6 305.5L776.7 305L775.8 304.4L775 303.8L774.2 303.1L773.4 302.4L772.6 301.6L771.8 300.8L770.8 300L769.9 299.3L769 298.7L768 298.1L767.1 297.5L766.2 297.1L765.2 296.6L764.2 296.2L763.3 295.9L762.4 295.7L761.4 295.5L760.5 295.3L759.6 295.2L758.6 295.1L757.7 295.1L756.7 295.2L755.8 295.3L754.8 295.4L753.8 295.6L752.9 295.8L751.9 296.1L751 296.2L750.1 296.2L749.2 296.3L748.3 296.3L747.4 296.3L746.6 296.2L745.7 296.1L744.9 296L744.1 295.7L743.4 295.5L742.7 295.1L742 294.7L741.4 294.2L740.9 293.6L740.3 293.1L739.8 292.5L739.3 291.8L738.8 291.2L738.3 290.5L737.7 289.9L737.2 289.3L736.6 288.7L736 288.1L735.5 287.6L734.9 287.1L734.3 286.6L733.7 286.2L733 285.8L732.4 285.4L731.8 285.1L731.2 284.8L730.5 284.5L729.9 284.2L729.2 284L728.5 283.8L727.9 283.6L727.2 283.5L726.5 283.3L725.8 283.2L725.1 283.1L724.5 282.9L723.8 282.8L723.2 282.6L722.6 282.4L722 282.1L721.5 281.9L720.9 281.6L720.4 281.3L719.9 281L719.5 280.7L719.1 280.2L718.8 279.8L718.5 279.3L718.2 278.8L717.9 278.3L717.7 277.8L717.5 277.3L717.3 276.7L717.1 276.2L716.8 275.6L716.5 275.1L716.3 274.6L716 274.1L715.7 273.6L715.3 273.1L715 272.6L714.6 272.2L714.3 271.8L713.9 271.4L713.5 271L713.1 270.6L712.7 270.2L712.3 269.8L711.9 269.5L711.5 269.2L711 268.8L710.6 268.5L710.1 268.2L709.7 268L709.2 267.7L708.8 267.4L708.4 267.1L708 266.7L707.6 266.4L707.2 266.1L706.8 265.7L706.5 265.4L706.1 265L705.8 264.7L705.5 264.3L705.3 263.9L705.1 263.5L704.9 263.1L704.7 262.7L704.6 262.2L704.5 261.8L704.3 261.4L704.2 260.9L704 260.5L703.7 260.1L703.4 259.7L703.1 259.3L702.9 259L702.5 258.7L702.2 258.5L701.9 258.2L701.5 258L701.2 257.8L700.9 257.7L700.5 257.5L700.2 257.3L699.9 257.1L699.5 256.9L699.2 256.8L698.8 256.7L698.5 256.6L698.1 256.4L697.8 256.3L697.4 256.3L697.1 256.2L696.9 256.8L697.3 256.9L697.6 257L697.9 257.1L698.3 257.2L698.6 257.3L698.9 257.4L699.2 257.6L699.5 257.7L699.8 257.9L700.1 258.1L700.4 258.3L700.6 258.6L700.9 258.8L701.1 259.1L701.3 259.4L701.5 259.7L701.7 260L701.9 260.3L702.1 260.6L702.3 260.9L702.4 261.3L702.6 261.7L702.8 262L703.1 262.5L703.3 262.9L703.6 263.3L703.9 263.7L704.3 264L704.6 264.4L704.9 264.8L705.3 265.2L705.6 265.5L705.9 265.9L706.3 266.3L706.7 266.6L707.1 267L707.5 267.3L707.9 267.7L708.3 268L708.8 268.3L709.3 268.6L709.7 268.9L710.2 269.2L710.6 269.5L711 269.8L711.5 270.1L711.9 270.4L712.2 270.7L712.6 271.1L712.9 271.5L713.2 271.9L713.5 272.3L713.7 272.8L713.9 273.3L714.1 273.8L714.3 274.3L714.5 274.8L714.7 275.3L715 275.9L715.2 276.4L715.4 276.9L715.6 277.5L716 278L716.3 278.6L716.7 279.1L717.1 279.6L717.5 280.1L718 280.5L718.5 280.9L719 281.3L719.5 281.7L720 282L720.5 282.3L721.1 282.6L721.7 282.9L722.3 283.1L722.9 283.3L723.6 283.5L724.2 283.7L724.9 283.9L725.6 284L726.3 284.1L727 284.3L727.7 284.4L728.3 284.6L729 284.8L729.6 285L730.2 285.2L730.8 285.5L731.4 285.8L731.9 286.2L732.4 286.6L732.9 287.1L733.4 287.6L733.8 288.2L734.3 288.7L734.8 289.3L735.3 289.9L735.8 290.5L736.3 291.1L736.7 291.8L737.3 292.4L737.9 293.1L738.6 293.7L739.2 294.3L740 294.8L740.7 295.2L741.5 295.6L742.3 296L743.1 296.3L743.9 296.6L744.7 296.8L745.6 297L746.5 297.1L747.4 297.2L748.3 297.2L749.2 297.1L750.2 297.1L751.1 297L752.1 296.9L753.1 296.9L754 296.7L755 296.5L755.9 296.4L756.8 296.3L757.7 296.2L758.6 296.2L759.5 296.3L760.3 296.4L761.2 296.6L762 296.9L762.8 297.3L763.5 297.7L764.3 298.2L765.1 298.8L765.9 299.4L766.7 300L767.5 300.7L768.4 301.4L769.2 302L769.9 302.8L770.8 303.5L771.8 304.3L772.7 305L773.8 305.6L774.8 306.1L776 306.6L777.1 306.9L778.3 307.2L779.5 307.3L780.7 307.4L781.9 307.4L783.1 307.4L784.3 307.2L785.6 306.9L786.9 306.6L788.2 306.2L789.5 305.7L790.9 305.1L792.3 304.5L793.7 303.8L795.1 303L796.4 302.2L797.8 301.4L799.3 300.7L800.7 300L802.2 299.5L803.8 299L805.3 298.7L806.9 298.5L808.5 298.5L810.1 298.6L811.7 298.8L813.3 299.2L815 299.6L816.7 300.1L818.4 300.6L820.1 301.2L821.8 301.8L823.5 302.4L825.1 303.3L826.9 303.9L828.7 304.5L830.5 305.1L832.3 305.5L834 305.8L835.7 306.1L837.4 306.2L839 306.3L840.5 306.3L842.2 306.3L843.8 306.1L845.4 305.9L847 305.5L848.6 305L850.2 304.5L851.8 304L853.5 303.5L855.3 303.1L857.2 302.7L859.3 302.2L861.5 301.7L863.8 301.4L866.1 301.2L868.4 301.2L870.6 301.4L872.8 301.9L874.9 302.6L876.9 303.4L878.6 304.5L880 305.8L881.3 307.2L882.4 308.9L883.3 310.7L884.1 312.7L884.7 314.8L885 316.8L885 318.8L884.8 320.7L884.3 322.2L883.3 323.5L882.3 324.8L881.2 326.1L880 327.3L878.8 328.6L877.7 330L876.6 331.5L875.6 333.1L874.8 334.8L874.1 336.4L873.6 338L873.1 339.7L872.7 341.6L872.4 343.7L872.1 345.8L871.9 348.1L871.6 350.5L871.5 353L871.3 355.5L871.1 357.9L870.9 360.4L870.7 362.9L870.4 365.3L869.9 367.7L869.3 370L868.5 372.1L867.5 374.2L866.3 376.1L865 377.8L863.4 379.4L861.6 380.7L859.6 381.8L857.5 382.7L855.2 383.4L852.8 383.9L850.4 384.2L847.9 384.5L845.3 384.6L842.6 384.7L840 384.8L837.2 384.6L834.4 384.6L831.6 384.7L828.9 384.9L826.2 385.2L823.6 385.6L821.1 386.2L818.8 386.9L816.5 387.7L814.3 388.7L812.1 389.7L810 391L807.9 392.5L805.9 394.2L803.9 396L801.9 397.9L799.9 399.9L797.8 402L795.6 404.1L793.3 406.3L790.9 408.5L788.4 410.6L785.7 412.6L782.9 414.5L780.1 416.1L777.1 417.6L774.1 418.7L771 419.6L767.9 420.1L764.8 420.3L761.7 420.1L758.7 419.6L755.6 418.7L752.5 417.5L749.4 416.1L746.4 414.5L743.5 412.6L740.8 410.6L738.2 408.5L735.8 406.3L733.8 403.7L731.9 401.2L730 398.6L728.2 396.1L726.2 393.6L724.1 391.3L721.7 389.1L719.2 387.1L716.3 385.3L713.4 383.9L710.7 382.7L707.9 381.7L704.9 380.9L701.6 380.3L698.1 379.8L694.3 379.5L690.5 379.4L686.5 379.5L682.4 379.9L678.3 380.4L674.1 381.2L670 382.2L665.8 383.1L661.7 383.9L657.5 384.6L653.4 385.1L649.3 385.2L645.1 385.1L641 384.6L637.1 383.8L633.4 382.6L629.7 381L626.1 379.1L622.4 376.9L618.8 374.4L615.2 371.7L611.8 368.8L608.4 365.8L605.1 362.6L602.1 359.4L599.3 356.1L596.6 352.7L593.9 349.4L591.1 346.2L588.3 343.1L585.3 340.2L582 337.7L578.6 335.4L574.9 333.4L571.1 331.9L567.3 330.7L563.6 329.8L559.7 329.3L555.6 329.1L551.4 329.2L547 329.6L542.6 330.3L538.1 331.2L533.6 332.3L529.1 333.6L524.6 335.2L520.2 336.8L515.7 338.3L511.3 339.7L507 341L502.8 342.1L498.6 342.9L494.6 343.5L490.6 343.8L486.8 343.7L483.2 343.3L479.5 342.6L475.5 341.7L471.4 340.5L467 339L462.6 337.4L458.1 335.5L453.6 333.4L449.2 331.1L445.1 328.6L441.3 325.7L437.4 322.7L433.7 319.7L429.8 316.9L425.8 314.2L421.6 311.8L417.2 309.9L412.5 308.3L407.6 307.3L402.8 306.9L398.4 306.9L394.1 307.3L389.7 308.1L385.1 309.4L380.5 311.2L375.9 313.3L371.4 316L367 319L362.9 322.4L359.1 326.1L355.5 330.1L352.2 334.2L349 338.2L345.8 342.3L342.6 346.1L339.3 349.9L335.8 353.3L332.3 356.5L328.5 359.4L324.7 361.9L320.8 363.9L316.7 365.6L312.3 367.1L307.6 368.4L302.7 369.6L297.5 370.7L292.2 371.6L286.7 372.5L281.2 373.3L275.8 374L270 374.1L264.1 374.2L258.2 374.6L252.3 375.2L246.4 376.3L240.7 377.9L235.2 380.2L230 383.3L225.2 387.1L221.1 391.6L217.9 396.3L215.5 401.2L213.9 406.5L213 412L212.8 417.7L213.4 423.3L214.7 428.8L216.6 434.1L219 439.1L221.9 443.8L225.4 448.1L228.9 452L232.5 455.7L236 459L239.3 462L242.3 464.8L244.9 467.2L247.1 469.4L248.9 471.5L250 473.2L250.7 475.2L251.5 478.1L252.6 481.9L253.9 486.4L255.3 491.4L256.8 496.9L258.2 502.5L259.4 508.2L260.3 513.9L260.9 519.3Z" fill="#0f5799"/><path d="M264 517.7L258.4 517.7L252.7 517.4L246.8 516.8L240.8 515.7L234.9 514.1L229.1 511.8L223.6 508.9L218.5 505.2L214 500.5L210.4 495.1L208.1 489.5L206.9 483.8L206.8 478.1L207.5 472.5L209.1 467.1L211.3 462L214.2 457.3L217.5 452.9L221.1 448.9L225 445.3L228.8 442.2L232.6 439.4L236.5 436.9L240.2 434.6L243.7 432.4L247 430.3L250.1 428.2L252.8 426L255.2 423.6L257.2 421.2L258.9 418.8L260.6 416L262.4 412.7L264.3 408.8L266.5 404.3L268.7 399.5L271 394.3L273.3 388.8L275.4 383.1L277.2 377.4L279.3 372.3L281.5 367.1L283.8 362L286.3 357.1L289 352.3L292 347.8L295.4 343.6L299.1 339.7L303.1 336.3L307.5 333.3L312 331.1L316.8 329.3L321.9 328L327.2 327L332.6 326.5L338.1 326.4L343.6 326.7L349 327.4L354.2 328.5L359.1 329.8L363.7 331.5L367.9 333.3L372 335.3L375.9 337.3L379.8 339.2L383.8 340.9L387.8 342.3L392 343.4L396.3 344.1L400.5 344.4L404.3 344.4L408 344.2L412 343.7L416.2 342.9L420.7 341.8L425.3 340.4L430.1 338.8L434.9 336.8L439.6 334.6L444.1 332.1L448.4 329.6L452.6 327.1L456.7 324.5L460.8 322.1L465 319.8L469.2 317.8L473.7 316.2L478.3 315L483.1 314.3L487.9 314.2L492.4 314.8L496.8 315.9L501.1 317.5L505.3 319.5L509.4 321.8L513.3 324.4L517 327.3L520.6 330.4L524.1 333.6L527.5 336.8L530.7 340L533.8 343.1L536.7 346.2L539.6 349.1L542.6 351.9L545.7 354.6L548.9 356.9L552.3 359L555.8 360.7L559.4 362.2L562.8 363.3L566.3 364.1L570 364.7L573.9 365.1L578 365.2L582.3 365.1L586.7 364.8L591.2 364.2L595.7 363.4L600.2 362.5L604.7 361.5L609.1 360.6L613.5 359.6L617.9 358.8L622.3 358.1L626.6 357.7L630.9 357.5L635.1 357.7L639.3 358.1L643.3 359L647 360.2L650.6 361.8L654.2 363.7L657.7 365.9L661.2 368.4L664.5 371.1L667.8 373.9L670.8 376.9L673.7 380.1L676.5 383.2L679 386.2L681.2 389.2L683.4 392.1L685.5 394.9L687.8 397.7L690.1 400.3L692.6 402.7L695.4 404.9L698.3 406.8L701.4 408.3L704.2 409.5L707.1 410.4L710.1 411.1L713.3 411.6L716.6 411.9L720.1 411.8L723.7 411.6L727.3 411L730.9 410.2L734.3 409L737.6 408L740.8 406.8L743.9 405.6L747 404.5L750 403.4L752.9 402.5L755.8 401.7L758.7 401L761.6 400.6L764.4 400.5L767.1 400.7L769.8 401.1L772.6 401.7L775.4 402.6L778.2 403.5L781.1 404.6L784 405.8L787 407L790.1 408.2L793.3 409.2L796.4 410.1L799.6 410.9L802.8 411.5L805.9 411.8L809.1 411.9L812.1 411.8L815.1 411.4L817.9 410.8L820.6 409.9L823.2 408.8L825.7 407.6L828.1 406L830.3 404.2L832.3 402.2L834.1 400L835.7 397.6L837.2 395.2L838.5 392.6L839.8 390L840.9 387.4L842 385L843.2 382.5L844.3 380.2L845.4 377.9L846.5 375.8L847.6 373.8L848.7 372L850 370.3L851.2 368.8L852.6 367.5L854.1 366.4L855.8 365.4L857.5 364.6L859.4 364L861.3 363.4L863.4 362.8L865.6 362.2L867.9 361.6L870.3 360.9L872.7 359.9L875.1 358.9L877.5 357.8L879.8 356.6L882 355.1L884.2 353.6L886.1 351.8L887.8 349.9L889.3 347.9L890.6 345.7L891.5 343.6L892.2 341.5L892.6 339.4L892.9 337.1L892.8 334.8L892.5 332.4L891.9 330L891 327.7L889.8 325.6L888.2 323.7L886.5 322.3L884.7 321.3L882.9 320.6L881.1 320.1L879.4 319.7L877.7 319.4L876.1 318.9L874.5 318.4L873 317.8L871.6 317.1L870.3 316.2L869.2 315.3L868.1 314.1L867 312.8L865.9 311.3L864.8 309.7L863.6 308L862.4 306.2L861.1 304.4L859.8 302.6L858.2 300.9L856.6 299.4L855 298.2L853.3 297.1L851.5 296.1L849.8 295.3L847.9 294.6L846.1 294.2L844.3 293.9L842.6 293.7L840.8 293.7L839 293.7L837.1 294L835.3 294.4L833.5 295L831.8 295.7L830.1 296.5L828.4 297.4L826.8 298.4L825.2 299.4L823.7 300.4L822.1 301.3L820.5 302.2L818.9 303L817.3 303.8L815.7 304.6L814.1 305.2L812.5 305.8L810.9 306.2L809.3 306.5L807.7 306.8L806.2 306.8L804.6 306.7L803.1 306.4L801.5 306.1L800 305.7L798.4 305.2L796.9 304.6L795.5 304L794.1 303.4L792.6 302.8L791.2 302.2L790 301.6L788.8 301.1L787.6 300.5L786.5 300.1L785.3 299.6L784.2 299.3L783 299L781.9 298.8L780.7 298.6L779.6 298.5L778.6 298.5L777.5 298.5L776.4 298.7L775.3 298.8L774.2 299.1L773.1 299.4L772 299.7L770.9 300.1L769.8 300.5L768.8 300.7L767.7 301L766.7 301.2L765.7 301.4L764.7 301.5L763.7 301.6L762.7 301.6L761.8 301.6L760.9 301.5L760 301.3L759.1 301L758.3 300.6L757.6 300.1L756.9 299.6L756.2 299L755.5 298.4L754.9 297.7L754.2 297L753.6 296.3L752.7 295.8L752 295.1L751.3 294.5L750.5 294L749.8 293.4L749 292.9L748.3 292.4L747.5 292L746.7 291.6L746 291.3L745.2 291L744.4 290.7L743.6 290.5L742.8 290.3L742 290.2L741.2 290.1L740.4 290.1L739.5 290.1L738.7 290L737.8 290.1L737 290.1L736.2 290L735.4 290L734.7 289.9L733.9 289.8L733.2 289.6L732.5 289.4L731.8 289.2L731.1 289L730.5 288.7L729.9 288.4L729.3 288L728.8 287.5L728.4 287L728 286.5L727.6 286L727.2 285.4L726.8 284.8L726.5 284.2L726.2 283.6L725.8 283L725.4 282.4L725 281.9L724.6 281.4L724.2 280.9L723.7 280.4L723.3 279.9L722.8 279.5L722.4 279.1L721.9 278.7L721.4 278.3L720.9 278L720.5 277.6L720 277.3L719.4 277L718.9 276.8L718.4 276.5L717.8 276.3L717.3 276.1L716.7 275.8L716.2 275.7L715.6 275.4L715.1 275.1L714.6 274.9L714.2 274.6L713.7 274.3L713.2 274L712.8 273.6L712.4 273.3L712 272.9L711.7 272.5L711.4 272.1L711.2 271.7L710.9 271.2L710.8 270.7L710.6 270.2L710.4 269.7L710.3 269.3L710.2 268.7L710 268.2L709.8 267.7L709.6 267.2L709.4 266.7L709.1 266.2L708.9 265.7L708.6 265.3L708.3 264.8L708 264.4L707.6 264L707.3 263.6L706.9 263.2L706.6 262.8L706.3 262.5L705.9 262.1L705.6 261.8L705.2 261.4L704.8 261.1L704.4 260.9L704 260.6L703.6 260.4L703.2 260.2L702.8 260L702.4 259.8L702.1 259.6L701.7 259.5L701.4 259.3L701.1 259.2L700.8 259L700.5 258.8L700.2 258.7L699.9 258.5L699.6 258.3L699.4 258L699.1 257.8L698.9 257.5L698.7 257.2L698.5 257L698.3 256.7L698.1 256.4L697.8 256.2L697.6 255.9L696.4 257.1L696.7 257.3L697 257.6L697.2 257.8L697.6 258L697.9 258.2L698.2 258.4L698.5 258.6L698.8 258.7L699.2 258.9L699.5 259.1L699.8 259.3L700.1 259.5L700.4 259.6L700.8 259.8L701.1 259.9L701.4 260.1L701.8 260.3L702.1 260.4L702.5 260.6L702.8 260.8L703.2 261L703.6 261.2L704 261.5L704.4 261.7L704.7 262L705.1 262.3L705.4 262.6L705.7 263L706.1 263.3L706.3 263.7L706.6 264.1L706.8 264.5L707 265L707.2 265.4L707.3 265.9L707.5 266.4L707.6 266.9L707.8 267.4L708 267.8L708.2 268.3L708.3 268.8L708.6 269.3L708.8 269.8L709 270.3L709.3 270.8L709.6 271.3L710 271.8L710.4 272.2L710.7 272.6L711.1 273L711.5 273.4L711.9 273.8L712.3 274.2L712.8 274.6L713.3 274.9L713.8 275.2L714.3 275.5L714.8 275.8L715.3 276.1L715.8 276.3L716.4 276.6L717 276.8L717.5 277L718 277.3L718.6 277.5L719.1 277.8L719.5 278L720 278.3L720.5 278.6L720.9 279L721.3 279.4L721.6 279.8L721.9 280.3L722.2 280.8L722.6 281.3L722.9 281.8L723.2 282.4L723.5 282.9L723.8 283.5L724.2 284L724.6 284.6L725 285.2L725.4 285.8L725.9 286.4L726.4 286.9L727 287.4L727.6 287.9L728.2 288.3L728.8 288.7L729.5 289.1L730.1 289.4L730.8 289.7L731.5 290L732.2 290.2L733 290.4L733.8 290.6L734.6 290.7L735.4 290.8L736.2 290.8L737 290.9L737.8 290.9L738.7 290.9L739.5 290.9L740.3 290.9L741.1 291L741.9 291.1L742.7 291.2L743.4 291.4L744.1 291.6L744.9 291.8L745.5 292.2L746.2 292.6L746.8 293.1L747.4 293.6L748.1 294.2L748.7 294.7L749.3 295.4L750 296L750.6 296.6L751.3 297.2L751.8 298.1L752.5 298.8L753.3 299.5L754.1 300.1L755 300.6L755.9 301.1L756.8 301.5L757.8 301.9L758.7 302.2L759.7 302.4L760.7 302.6L761.7 302.7L762.7 302.7L763.8 302.7L764.8 302.6L765.9 302.5L766.9 302.3L768 302L769.1 301.8L770.2 301.5L771.3 301.2L772.4 300.8L773.5 300.5L774.5 300.2L775.6 300L776.6 299.8L777.6 299.7L778.6 299.7L779.6 299.7L780.6 299.8L781.6 300L782.6 300.4L783.6 300.9L784.5 301.4L785.5 302L786.6 302.6L787.7 303.3L788.8 304L790.1 304.6L791.4 305.2L792.8 306.1L794.4 306.7L796 307.3L797.7 307.7L799.5 308L801.2 308.2L802.9 308.3L804.6 308.3L806.2 308.2L807.8 308L809.5 307.8L811.2 307.5L812.8 307L814.5 306.4L816.2 305.8L817.8 305L819.5 304.2L821.1 303.3L822.7 302.5L824.3 301.6L826 300.6L827.6 299.6L829.1 298.6L830.7 297.8L832.4 297L834 296.3L835.7 295.8L837.4 295.4L839.1 295.2L840.8 295.1L842.4 295.3L844 295.7L845.5 296.2L847.1 296.9L848.6 297.7L850.1 298.6L851.6 299.6L853.1 300.7L854.5 301.9L855.8 303.1L856.8 304.9L858.2 306.6L859.6 308.3L861 310L862.4 311.6L863.9 313.1L865.3 314.4L866.7 315.6L868 316.6L869.3 317.6L870.8 318.5L872.3 319.3L874 320L875.6 320.5L877.3 320.9L879 321.3L880.7 321.7L882.4 322.2L884 322.8L885.5 323.7L887 325L888.3 326.6L889.4 328.4L890.3 330.5L890.8 332.7L891.1 334.9L891.1 337L890.9 339.1L890.5 341L889.9 342.9L888.8 344.8L887.5 346.5L885.9 348.1L884.2 349.6L882.2 350.9L880.2 352.2L878 353.3L875.8 354.3L873.5 355.2L871.3 356.1L869 356.7L866.7 357.5L864.4 358.3L862.2 359.2L860.1 360.1L858.1 361.1L856.2 362.2L854.5 363.4L852.9 364.7L851.3 366.1L849.9 367.5L848.5 369.1L847.2 370.9L846 372.8L844.8 374.9L843.7 377.1L842.6 379.4L841.5 381.7L840.3 384.1L839.1 386.6L837.9 389.2L836.7 391.7L835.4 394.2L834 396.5L832.5 398.8L830.8 400.8L828.9 402.7L826.9 404.4L824.7 405.8L822.4 407L819.9 407.8L817.4 408.3L814.8 408.5L812.1 408.5L809.3 408.2L806.4 407.8L803.5 407.2L800.6 406.5L797.7 405.7L794.7 404.8L791.8 403.6L788.7 402.5L785.6 401.5L782.4 400.5L779.3 399.7L776.2 399.1L773.2 398.6L770.2 398.4L767.3 398.3L764.4 398.3L761.4 398.5L758.4 398.9L755.3 399.6L752.3 400.4L749.3 401.4L746.2 402.5L743.1 403.6L740 404.8L736.9 406L733.7 407L730.3 408L726.9 408.8L723.5 409.3L720.1 409.6L716.7 409.6L713.5 409.4L710.5 408.9L707.7 408.3L705 407.4L702.4 406.3L699.7 404.6L697.2 402.6L695 400.3L693 397.8L691.1 395.1L689.3 392.3L687.4 389.3L685.4 386.2L683.1 383L680.5 379.8L677.8 376.4L674.6 373.1L671.1 370.1L667.4 367.3L663.6 364.7L659.7 362.5L655.8 360.6L651.8 359L647.9 357.7L643.9 356.7L639.7 355.8L635.3 355.3L630.9 355.2L626.4 355.3L622 355.8L617.5 356.5L613.1 357.3L608.6 358.3L604.2 359.2L599.8 360.1L595.3 361L590.9 361.8L586.5 362.3L582.2 362.7L578 362.8L574.1 362.7L570.3 362.3L566.8 361.8L563.5 361L560.3 359.9L557 358.3L553.9 356.3L551.1 354L548.4 351.5L545.8 348.8L543.2 345.8L540.6 342.7L537.8 339.4L534.8 336.1L531.5 332.8L528 329.4L524.2 326.1L520.2 323.1L516 320.3L511.6 317.8L507 315.7L502.4 314.1L497.6 312.8L492.8 312.1L487.9 311.8L482.9 311.9L477.8 312.6L472.9 313.8L468.3 315.5L463.9 317.6L459.6 319.9L455.4 322.4L451.3 324.9L447.2 327.5L442.9 329.9L438.4 332.3L433.8 334.5L429.2 336.4L424.6 338L420 339.3L415.7 340.4L411.6 341.1L407.7 341.6L404.2 341.9L400.6 341.8L396.7 341.3L392.8 340.2L389.1 338.8L385.5 337L382 335L378.4 332.8L374.5 330.5L370.4 328.2L365.9 326L360.9 324.2L355.5 322.6L349.8 321.6L343.9 321.2L338 321.2L332.1 321.7L326.4 322.8L320.9 324.3L315.7 326.2L310.8 328.4L306.1 331.1L301.6 334.2L297.3 337.8L293.4 341.9L289.9 346.3L286.8 351L284 355.9L281.5 360.9L279.1 366.1L276.9 371.3L274.8 376.6L272.9 382.2L270.8 387.8L268.6 393.2L266.3 398.4L264.1 403.2L262 407.6L260 411.5L258.3 414.7L256.7 417.3L255.2 419.5L253.2 421.4L250.7 423.3L247.9 424.9L244.8 426.5L241.4 428.2L237.6 429.9L233.6 432L229.4 434.4L225.1 437.3L221 440.7L216.7 444.5L212.7 449.1L209.3 454.2L206.4 459.7L204.3 465.6L203.1 471.8L202.8 478.1L203.5 484.3L205.2 490.4L208 496.4L211.9 502.2L216.8 507.2L222.2 511.2L228 514.3L234 516.7L240.2 518.4L246.4 519.5L252.5 520.1L258.4 520.4L264 520.3Z" fill="#0f5799"/><path d="M790.5 235.1L792.5 234.8L794.4 234.5L796.4 234.1L798.3 233.8L800.2 233.5L802.2 233.1L804.2 232.8L806.3 232.4L808.4 232.1L810.8 231.7L813.3 231.3L815.9 230.8L818.6 230.2L821.4 229.7L824.3 229.2L827.2 228.7L830.1 228.2L832.9 227.7L835.6 227.4L838.2 227.1L840.6 226.6L843 226.1L845.4 225.7L847.8 225.4L850.2 225.1L852.6 224.8L855 224.5L857.4 224.2L859.8 223.8L862.2 223.5L861.8 217.5L859.3 217.6L856.9 217.6L854.5 217.6L852.1 217.6L849.7 217.6L847.2 217.6L844.7 217.7L842.1 217.8L839.5 217.9L836.8 218.1L834.1 218.7L831.3 219.3L828.4 220L825.5 220.6L822.6 221.4L819.8 222.1L817 222.8L814.2 223.5L811.7 224.2L809.2 224.9L806.9 225.6L804.8 226.2L802.7 226.9L800.8 227.5L798.9 228.1L797 228.8L795.2 229.4L793.3 230L791.4 230.6L789.5 231.3Z" fill="#9fc07c" opacity="0.36"/><path d="M741.8 237.3L743.2 237.5L744.6 237.8L746 238L747.4 238.3L748.8 238.6L750.2 238.8L751.6 239.1L753.1 239.3L754.5 239.5L755.9 239.6L757.2 239.7L758.5 239.8L759.7 239.9L761 240L762.2 240.1L763.5 240.1L764.8 240.1L766.2 240L767.7 239.9L769.3 239.8L771 239.6L772.8 239.4L774.6 239.1L776.5 238.8L778.4 238.5L780.4 238.1L782.4 237.7L784.5 237.3L786.5 236.9L788.6 236.5L790.7 236L792.9 235.5L795.1 234.9L797.4 234.3L799.6 233.7L801.9 233.2L804.1 232.6L806.3 232L808.5 231.4L810.6 230.9L812.7 230.4L814.7 229.8L816.7 229.3L818.6 228.7L820.6 228.2L822.5 227.7L824.5 227.2L826.4 226.7L828.4 226.2L830.4 225.7L829.6 222.3L827.6 222.7L825.6 223L823.7 223.3L821.7 223.6L819.7 223.9L817.7 224.2L815.6 224.6L813.6 224.9L811.5 225.3L809.4 225.7L807.2 226.2L805 226.7L802.8 227.3L800.5 227.8L798.2 228.4L796 229L793.8 229.6L791.6 230.1L789.4 230.6L787.4 231.1L785.4 231.6L783.3 232.1L781.3 232.6L779.4 233L777.4 233.5L775.6 233.9L773.7 234.3L772 234.6L770.3 235L768.7 235.2L767.2 235.4L765.8 235.6L764.6 235.8L763.3 235.9L762.2 236L761 236L759.8 236L758.7 236L757.4 236L756.1 236L754.8 235.9L753.5 235.8L752.1 235.7L750.7 235.5L749.3 235.3L747.9 235.1L746.5 234.9L745.1 234.7L743.6 234.5L742.2 234.3Z" fill="#3f9a8c" opacity="0.9"/><path d="M741.8 237.2L743.2 237.4L744.6 237.7L746 237.9L747.4 238.2L748.8 238.4L750.2 238.7L751.7 238.9L753.1 239.1L754.5 239.3L755.9 239.4L757.2 239.5L758.5 239.6L759.7 239.7L761 239.7L762.2 239.8L763.5 239.8L764.8 239.7L766.2 239.6L767.7 239.5L769.2 239.4L770.9 239.2L772.7 238.9L774.5 238.6L776.4 238.3L778.3 237.9L780.3 237.5L782.3 237.1L784.3 236.6L786.4 236.2L788.4 235.8L790.5 235.2L792.6 234.6L794.8 234L797 233.4L799.2 232.8L801.4 232.1L803.7 231.5L805.9 230.8L808.1 230.2L810.3 229.6L809.7 227L807.4 227.5L805.2 228L802.9 228.5L800.7 229.1L798.4 229.6L796.2 230.1L793.9 230.5L791.8 231L789.6 231.4L787.6 231.8L785.5 232.3L783.5 232.8L781.5 233.2L779.5 233.7L777.6 234.1L775.7 234.4L773.8 234.8L772.1 235.1L770.4 235.4L768.8 235.6L767.3 235.8L765.9 236L764.6 236.1L763.3 236.2L762.2 236.3L761 236.3L759.8 236.3L758.6 236.3L757.4 236.3L756.1 236.2L754.8 236.1L753.4 236L752.1 235.8L750.7 235.7L749.3 235.5L747.9 235.3L746.5 235L745 234.8L743.6 234.6L742.2 234.4Z" fill="#17679a" opacity="0.85"/><path d="M936.8 555.1L939 545M978.1 550.9L971.2 534.5M995.9 515L997 523" stroke="#1c1a1a" stroke-width="3.9" fill="none"/><path d="M941.7 532.5L939.5 542.6M963.4 515.9L970.3 532.3M998.3 533.2L997.3 525.3" stroke="#2e8bd6" stroke-width="3.9" fill="none"/><path d="M952.5 533.8L957.1 540.4M973.7 511.5L981.4 527.5" stroke="#c9254f" stroke-width="3.9" fill="none"/><path d="M963 548.9L958.4 542.3M990.2 545.7L982.5 529.7" stroke="#1bb14b" stroke-width="3.9" fill="none"/><path d="M1017.5 525.8L1013.6 519.3M1032.1 492.2L1037.2 508.2" stroke="#1bb14b" stroke-width="3.9" fill="none"/><path d="M1008.5 510.9L1012.4 517.4M1043.1 526.6L1038 510.5" stroke="#c9254f" stroke-width="3.9" fill="none"/><path d="M1031.3 530.2L1027.3 513.8M1052.3 515.6L1050.8 508.3" stroke="#1c1a1a" stroke-width="3.9" fill="none"/><path d="M1022.7 495.1L1026.7 511.5M1048.8 498.7L1050.4 506.1" stroke="#2e8bd6" stroke-width="3.9" fill="none"/><path d="M1054.7 492.7L1062.1 493.8M1052.3 463.9L1068.2 467.6" stroke="#c9254f" stroke-width="3.8" fill="none"/><path d="M1071.5 495.3L1064.2 494.2M1086.5 471.9L1070.6 468.2" stroke="#1bb14b" stroke-width="3.8" fill="none"/><path d="M1049.3 474.1L1064.9 479.1M1082.3 457.3L1075.8 453.6" stroke="#2e8bd6" stroke-width="3.8" fill="none"/><path d="M1082.7 484.8L1067.1 479.8M1067.5 448.8L1073.9 452.5" stroke="#1c1a1a" stroke-width="3.8" fill="none"/><path d="M1087.2 437.5L1079.8 437.3M1064.4 412.9L1080.6 415.4" stroke="#1bb14b" stroke-width="3.8" fill="none"/><path d="M1070.4 437.1L1077.7 437.2M1099.1 418.2L1083 415.7" stroke="#c9254f" stroke-width="3.8" fill="none"/><path d="M1097.1 429.1L1081.3 424.9M1093.2 406.6L1086.1 405.4" stroke="#1c1a1a" stroke-width="3.8" fill="none"/><path d="M1063.1 420.1L1078.9 424.3M1076.9 403.8L1084 405" stroke="#2e8bd6" stroke-width="3.8" fill="none"/><path d="M1075.3 396.4L1078.3 391.6M1052 385.7L1059.5 376.3" stroke="#c9254f" stroke-width="3.7" fill="none"/><path d="M1082.1 385.4L1079.2 390.2M1068.6 365L1061 374.4" stroke="#1bb14b" stroke-width="3.7" fill="none"/><path d="M1059.2 392.2L1067.6 383.5M1055.5 361.8L1050.6 364.8" stroke="#2e8bd6" stroke-width="3.7" fill="none"/><path d="M1077.6 373L1069.2 381.8M1044.2 368.6L1049.2 365.7" stroke="#1c1a1a" stroke-width="3.7" fill="none"/><path d="M1038.7 350.1L1037.3 354.9M1012.3 353.8L1017.7 344.9M989.6 334.6L993.5 338.1M968.2 341.5L974 350.9" stroke="#1bb14b" stroke-width="3.5" fill="none"/><path d="M1035.5 361.2L1036.9 356.4M1024.4 334L1019 342.9M998.6 342.6L994.7 339.1M981.1 362.3L975.3 352.9" stroke="#c9254f" stroke-width="3.5" fill="none"/><path d="M1033.1 339.7L1027 348M1012.9 333L1009.8 336.8M977.2 336.4L983 345.8M963.1 362.7L962.7 357.6" stroke="#1c1a1a" stroke-width="3.5" fill="none"/><path d="M1019.4 358.3L1025.5 350M1005.8 341.8L1008.9 338M989.9 357.3L984.2 347.9M962.1 351L962.5 356.1" stroke="#2e8bd6" stroke-width="3.5" fill="none"/><path d="M955.7 352.2L954.6 356.5M931.7 351.1L939.8 345.8" stroke="#1bb14b" stroke-width="3.1" fill="none"/><path d="M953.2 362.1L954.3 357.8M949.9 339.1L941.8 344.4" stroke="#c9254f" stroke-width="3.1" fill="none"/><path d="M954.2 344.5L946.7 350.7M942.3 334.4L937.8 334.7" stroke="#1c1a1a" stroke-width="3.1" fill="none"/><path d="M937.4 358.5L944.9 352.3M931.8 335.2L936.4 334.8" stroke="#2e8bd6" stroke-width="3.1" fill="none"/><path d="M928.6 327.6L932 324.9M916.5 312.7L925.6 310.9" stroke="#c9254f" stroke-width="2.8" fill="none"/><path d="M936.3 321.4L933 324.1M937 308.6L928 310.4" stroke="#1bb14b" stroke-width="2.8" fill="none"/><path d="M918.3 319.8L927.2 317.4M931.9 303.2L927.7 302.5" stroke="#2e8bd6" stroke-width="2.8" fill="none"/><path d="M938.4 314.3L929.5 316.7M922.3 301.6L926.5 302.3" stroke="#1c1a1a" stroke-width="2.8" fill="none"/><path d="M930.4 292.1L926.8 293.3M915 280.8L923.3 280.7" stroke="#1bb14b" stroke-width="2.5" fill="none"/><path d="M922 295L925.6 293.7M934 280.6L925.7 280.7" stroke="#c9254f" stroke-width="2.5" fill="none"/><path d="M934.1 286.2L925.8 286.3M930.1 275L926.4 274.1" stroke="#1c1a1a" stroke-width="2.5" fill="none"/><path d="M915.1 286.4L923.4 286.3M921.6 273L925.3 273.9" stroke="#2e8bd6" stroke-width="2.5" fill="none"/><path d="M921.1 267.7L924 266M911.7 258.2L918.6 255.4" stroke="#c9254f" stroke-width="2.3" fill="none"/><path d="M927.9 263.6L924.9 265.4M927.4 251.7L920.6 254.5" stroke="#1bb14b" stroke-width="2.3" fill="none"/><path d="M913.3 262.5L920.3 260.1M921.9 247.9L918.6 248.6" stroke="#2e8bd6" stroke-width="2.3" fill="none"/><path d="M929.5 257L922.4 259.4M914.2 249.5L917.6 248.8" stroke="#1c1a1a" stroke-width="2.3" fill="none"/><path d="M915.9 239.3L914.1 241.8M900.4 240.2L904.9 235.3" stroke="#1bb14b" stroke-width="2.1" fill="none"/><path d="M911.8 245L913.5 242.5M910.7 229.1L906.2 233.9" stroke="#c9254f" stroke-width="2.1" fill="none"/><path d="M914.6 233L909.7 237.4M904.5 227.8L902.1 229.7" stroke="#1c1a1a" stroke-width="2.1" fill="none"/><path d="M903.4 243.2L908.3 238.7M899 232.1L901.4 230.2" stroke="#2e8bd6" stroke-width="2.1" fill="none"/><path d="M895.1 229.6L895.1 227.1M884 231.4L884.9 226.1" stroke="#c9254f" stroke-width="1.7" fill="none"/><path d="M895 223.9L895.1 226.3M886 219.2L885.2 224.5" stroke="#1bb14b" stroke-width="1.7" fill="none"/><path d="M888.1 232.2L889.3 227M880.8 221.1L879.6 223.2" stroke="#2e8bd6" stroke-width="1.7" fill="none"/><path d="M890.8 220.2L889.6 225.5M878.1 226.1L879.3 223.9" stroke="#1c1a1a" stroke-width="1.7" fill="none"/><path d="M872.7 219.9L872.9 222M861.9 225.5L863 221.1" stroke="#1bb14b" stroke-width="1.5" fill="none"/><path d="M873.3 224.8L873 222.7M864.4 215.4L863.3 219.8" stroke="#c9254f" stroke-width="1.5" fill="none"/><path d="M868.8 216.5L867.5 220.9M859.4 216.5L858.4 218.2" stroke="#1c1a1a" stroke-width="1.5" fill="none"/><path d="M865.9 226.5L867.1 222.2M857 220.6L858 218.8" stroke="#2e8bd6" stroke-width="1.5" fill="none"/><path d="M852.9 220.1L852.1 218.7M845.2 224.8L844.3 221.3" stroke="#c9254f" stroke-width="1.3" fill="none"/><path d="M851 216.8L851.9 218.2M843 216.6L844 220.2" stroke="#1bb14b" stroke-width="1.3" fill="none"/><path d="M848.5 224.1L847.7 220.5M839.9 219.4L839.7 221" stroke="#2e8bd6" stroke-width="1.3" fill="none"/><path d="M846.7 215.8L847.5 219.4M839.6 223.2L839.7 221.6" stroke="#1c1a1a" stroke-width="1.3" fill="none"/><path d="M834.2 221.3L834.9 222.3M829.2 227.8L828.6 224.9" stroke="#1bb14b" stroke-width="1" fill="none"/><path d="M835.9 223.8L835.2 222.7M827.9 221L828.4 223.9" stroke="#c9254f" stroke-width="1" fill="none"/><path d="M830.8 220.4L831.3 223.3M825.2 223L825 224.3" stroke="#1c1a1a" stroke-width="1" fill="none"/><path d="M832.1 227.3L831.5 224.3M824.7 226L824.9 224.7" stroke="#2e8bd6" stroke-width="1" fill="none"/><path d="M821.6 226.4L821 225.6M815.6 229.9L815.1 227.6" stroke="#c9254f" stroke-width="0.9" fill="none"/><path d="M820.2 224.5L820.7 225.3M814.4 224.4L814.9 226.8" stroke="#1bb14b" stroke-width="0.9" fill="none"/><path d="M818.2 229.4L817.7 227M811.9 226.2L811.8 227.2" stroke="#2e8bd6" stroke-width="0.9" fill="none"/><path d="M817 223.8L817.5 226.2M811.6 228.6L811.7 227.6" stroke="#1c1a1a" stroke-width="0.9" fill="none"/><path d="M807.5 227.6L808 228.2M803.5 232.3L803 230.4" stroke="#1bb14b" stroke-width="0.8" fill="none"/><path d="M808.7 229.1L808.2 228.5M802.4 227.9L802.9 229.8" stroke="#c9254f" stroke-width="0.8" fill="none"/><path d="M804.7 227.3L805.2 229.2M800.2 229.6L800.1 230.3" stroke="#1c1a1a" stroke-width="0.8" fill="none"/><path d="M805.8 231.7L805.3 229.8M799.9 231.4L800 230.6" stroke="#2e8bd6" stroke-width="0.8" fill="none"/><path d="M797.2 231.9L796.9 231.5M792.5 234.5L792.2 233.1" stroke="#c9254f" stroke-width="0.7" fill="none"/><path d="M796.4 230.9L796.7 231.3M791.7 231.2L792.1 232.6" stroke="#1bb14b" stroke-width="0.7" fill="none"/><path d="M794.6 234L794.3 232.6M789.6 232.5L789.5 233" stroke="#2e8bd6" stroke-width="0.7" fill="none"/><path d="M793.8 230.7L794.1 232.1M789.3 233.8L789.4 233.3" stroke="#1c1a1a" stroke-width="0.7" fill="none"/><path d="M786.1 233.6L786.3 233.8M782.2 236.4L782 235.4M772.4 236.3L772.5 236.9" stroke="#1bb14b" stroke-width="0.6" fill="none"/><path d="M786.7 234.2L786.5 234M781.7 234L781.9 235M772.7 237.7L772.6 237.2" stroke="#c9254f" stroke-width="0.6" fill="none"/><path d="M783.6 233.6L783.9 234.5M779.5 235L779.4 235.4M774.2 236L774.3 236.6" stroke="#1c1a1a" stroke-width="0.6" fill="none"/><path d="M784.2 235.9L784 234.9M779.2 235.9L779.4 235.6M774.5 237.4L774.4 236.8" stroke="#2e8bd6" stroke-width="0.6" fill="none"/><path d="M765.4 237.5L765.4 237.7" stroke="#1c1a1a" stroke-width="0.5" fill="none"/><path d="M765.4 238L765.4 237.9" stroke="#2e8bd6" stroke-width="0.5" fill="none"/><path d="M763.6 237.6L763.6 237.8" stroke="#c9254f" stroke-width="0.5" fill="none"/><path d="M763.6 238.1L763.6 237.9" stroke="#1bb14b" stroke-width="0.5" fill="none"/><path d="M928.7 562.7L931.5 561.3L934.5 559.4L937.7 556.8L941 553.6L944.1 549.9L946.9 545.8L949.1 541.2L951.5 537.6L953.4 534L955.2 530.4L956.8 527L958.4 523.9L960.1 521.1L962 518.6L964.1 516.4L966.5 514.7L969 513.4L971.2 512.9L973.6 512.7L976.4 512.9L979.6 513.3L983.1 514L986.9 514.8L990.9 516L994.9 517.3L998.8 518.9L1002.6 520.7L1006.2 522.6L1009.7 524.6L1013.1 526.6L1016.5 528.5L1020.1 530.1L1023.7 531.4L1027.5 532.1L1031.4 532.3L1035.3 531.9L1038.8 530.9L1041.6 529.7L1044 528.1L1046.5 526L1049 523.4L1051.4 520.3L1053.6 516.7L1055.4 512.8L1056.7 508.5L1057.4 504.2L1057.3 499.9L1056.6 495.9L1055.4 492.3L1054.1 488.9L1052.9 485.7L1051.7 482.6L1050.8 479.7L1050.3 476.8L1050.1 473.9L1050.3 471.1L1050.9 468.5L1051.8 466.6L1053.2 464.7L1055 462.6L1057.1 460.4L1059.6 458L1062.4 455.6L1065.5 453.2L1068.7 450.8L1072.1 448.6L1075.4 446.6L1078.8 444.8L1082.2 443.1L1085.6 441.5L1088.8 439.7L1091.9 437.8L1094.6 435.6L1097 433L1099 430L1100.3 426.7L1101 423.5L1101.2 420.7L1100.9 418L1100.1 415.1L1098.8 412.1L1097 409L1094.7 405.9L1091.9 403L1088.6 400.6L1085.1 398.6L1081.4 397.3L1078.4 396.3L1075.3 395.6L1072.4 395.1L1069.5 394.6L1066.8 394.1L1064.2 393.4L1061.8 392.6L1059.5 391.5L1057.3 390.2L1055.5 388.7L1054.1 387.1L1053 385.2L1051.8 382.9L1050.7 380.4L1049.6 377.6L1048.5 374.6L1047.4 371.4L1046.5 368.1L1045.6 364.7L1044.7 361.3L1043.9 358.1L1043 355L1042.2 351.9L1041.1 348.9L1039.9 346L1038.4 343.2L1036.6 340.6L1034.6 338.2L1032.2 336.2L1029.7 334.6L1027.4 333.4L1025 332.5L1022.4 331.8L1019.4 331.3L1016.3 331.2L1013 331.5L1009.7 332.2L1006.5 333.4L1003.6 335L1001.1 337.2L999.3 339.8L997.9 342.4L996.7 345L995.6 347.6L994.4 350.1L992.9 352.5L991.3 354.8L989.4 356.9L987.1 358.8L984.9 360.1L982.9 360.8L980.9 361.3L978.5 361.7L975.8 362L972.8 362.1L969.8 361.9L966.8 361.5L964 360.7L961.7 359.6L959.9 358.3L959 356.9L958.5 355.3L958.2 353.6L958 351.7L957.8 349.7L957.4 347.6L956.8 345.6L955.9 343.6L954.7 341.8L953.5 340.2L952.3 339L951 337.9L949.4 336.8L947.6 335.7L945.6 334.5L943.3 333.4L941 332.2L938.5 331.1L935.9 330L933.4 329L931 328.1L928.7 327L926.5 325.9L924.5 324.8L922.7 323.5L921.1 322.2L919.7 320.8L918.7 319.4L917.9 317.9L917.3 316.4L917.2 314.7L917.4 313L917.9 311.3L918.6 309.6L919.6 307.9L920.8 306.3L922.1 304.6L923.6 303L925.1 301.3L926.7 299.6L928.1 297.9L929.6 296.4L931 294.8L932.3 293.2L933.5 291.6L934.5 290L935.3 288.3L935.8 286.6L936 284.8L936 283.2L935.8 281.7L935.4 280.3L934.7 278.8L933.8 277.4L932.6 275.9L931.3 274.4L929.8 273L928.1 271.6L926.3 270.3L924.5 269.2L922.8 268.2L921.1 267.2L919.5 266.3L918 265.4L916.6 264.6L915.4 263.8L914.3 262.9L913.5 262.1L912.9 261.2L912.5 260.3L912.3 259.4L912.4 258.4L912.6 257.3L913 256.2L913.6 254.9L914.2 253.5L914.9 252L915.6 250.3L916.3 248.5L916.8 246.5L917.3 244.6L917.6 242.7L917.8 240.8L917.8 238.9L917.6 237.1L917.2 235.3L916.7 233.7L915.9 232.2L915 230.9L913.9 229.7L912.8 228.8L911.4 228L910 227.4L908.4 227L906.7 226.8L904.9 226.7L903.1 226.9L901.2 227.2L899.4 227.6L897.8 228.3L896.3 228.8L894.9 229.4L893.6 230L892.3 230.6L891.2 231.1L890.1 231.6L889 231.9L888 232L886.9 232L885.9 231.9L885.1 231.6L884.4 231.1L883.6 230.5L882.8 229.7L881.9 228.8L881 227.8L880 226.7L879.1 225.5L878.2 224.3L877.2 223.1L876.3 221.9L875.5 220.8L874.6 219.7L873.7 218.6L872.7 217.6L871.6 216.7L870.5 215.9L869.3 215.3L868.1 214.8L866.8 214.5L865.6 214.3L864.5 214.3L863.3 214.4L862 214.6L860.7 214.9L859.4 215.4L858.1 216.1L856.9 216.8L855.7 217.6L854.6 218.6L853.7 219.3L852.8 220.2L852 221L851.2 221.7L850.5 222.4L849.8 223.1L849.1 223.6L848.3 224.1L847.6 224.4L846.8 224.6L846.1 224.7L845.3 224.6L844.6 224.4L843.8 224.1L842.9 223.8L842 223.4L841 223L840.1 222.5L839.1 222L838.1 221.5L837.1 221L836.2 220.6L835.3 220.2L834.4 219.8L833.5 219.5L832.5 219.3L831.6 219.2L830.7 219.2L829.9 219.3L829 219.4L828.3 219.7L827.5 220L826.8 220.4L826.1 220.9L825.5 221.5L824.8 222.2L824.2 222.9L823.7 223.6L823.1 224.4L822.7 225.2L822.1 225.9L821.5 226.6L821 227.2L820.4 227.8L819.8 228.3L819.3 228.8L818.7 229.2L818.1 229.5L817.5 229.7L817 229.9L816.4 229.9L815.7 229.9L815.1 229.7L814.5 229.5L813.9 229.2L813.3 228.9L812.6 228.6L811.9 228.2L811.2 227.8L810.4 227.4L809.6 227.1L808.9 226.9L808.1 226.6L807.4 226.5L806.7 226.3L805.9 226.3L805.2 226.3L804.5 226.3L803.9 226.4L803.3 226.6L802.6 226.8L802 227.1L801.5 227.4L801 227.8L800.4 228.3L800 228.8L799.5 229.3L799.1 229.9L798.6 230.5L798.2 231L797.7 231.5L797.3 232L796.8 232.4L796.4 232.8L795.9 233.2L795.5 233.6L795 233.9L794.5 234.1L794.1 234.3L793.6 234.4L793.1 234.5L792.6 234.5L792.1 234.4L791.6 234.2L791.1 234.1L790.6 233.9L790 233.6L789.5 233.4L788.9 233.2L788.3 233L787.6 232.8L787.1 232.7L786.5 232.6L785.8 232.5L785.2 232.5L784.7 232.5L784.1 232.5L783.5 232.6L783 232.7L782.4 232.8L781.9 233L781.4 233.2L780.9 233.4L780.4 233.6L779.9 233.9L779.5 234.3L779 234.6L778.6 235L778.2 235.3L777.8 235.7L777.4 236L776.9 236.3L776.5 236.5L776.1 236.8L775.7 237L775.3 237.2L774.9 237.4L774.4 237.6L774 237.7L773.6 237.8L773.2 237.8L772.7 237.7L772.3 237.7L771.9 237.6L771.5 237.4L771 237.3L770.6 237.1L770.2 237L769.7 236.8L769.2 236.7L768.7 236.6L768.2 236.6L767.8 236.5L767.3 236.5L766.8 236.5L766.3 236.5L765.8 236.5L765.4 236.6L764.9 236.6L764.4 236.7L764 236.7L763.5 236.8L763.1 236.8L762.6 236.9L762.1 237L761.7 237.1L761.2 237.2L760.8 237.4L760.3 237.5L759.9 237.7L760.1 238.3L760.6 238.2L761 238.1L761.4 237.9L761.9 237.8L762.3 237.7L762.7 237.6L763.2 237.5L763.6 237.4L764 237.4L764.5 237.4L764.9 237.4L765.3 237.5L765.8 237.5L766.2 237.6L766.6 237.8L767.1 237.9L767.5 238L767.9 238.1L768.4 238.2L768.8 238.3L769.2 238.5L769.7 238.6L770.2 238.7L770.7 238.8L771.2 238.8L771.8 238.8L772.3 238.8L772.8 238.7L773.2 238.6L773.7 238.5L774.2 238.4L774.7 238.3L775.1 238.1L775.6 237.9L776 237.7L776.5 237.4L776.9 237.2L777.3 236.9L777.8 236.6L778.2 236.3L778.7 235.9L779.1 235.5L779.5 235.2L779.9 234.9L780.4 234.6L780.8 234.3L781.2 234.1L781.7 233.9L782.1 233.7L782.6 233.6L783.1 233.5L783.6 233.6L784.1 233.6L784.6 233.7L785.1 233.8L785.6 234L786.1 234.2L786.6 234.3L787.2 234.5L787.7 234.6L788.3 234.9L788.9 235.1L789.5 235.3L790.1 235.4L790.8 235.5L791.4 235.6L792 235.6L792.6 235.5L793.2 235.4L793.8 235.2L794.3 235.1L794.9 234.8L795.4 234.6L795.9 234.2L796.4 233.9L796.9 233.5L797.4 233L797.9 232.5L798.3 232.1L798.8 231.6L799.3 231L799.7 230.4L800.1 229.9L800.6 229.3L801 228.9L801.5 228.5L801.9 228.1L802.4 227.8L802.9 227.6L803.5 227.4L804 227.3L804.6 227.4L805.1 227.5L805.7 227.6L806.3 227.8L806.9 228L807.6 228.3L808.2 228.6L808.9 228.9L809.6 229.2L810.3 229.6L811 229.9L811.8 230.3L812.6 230.5L813.4 230.8L814.2 230.9L814.9 231L815.7 231L816.4 230.9L817.1 230.7L817.8 230.5L818.5 230.3L819.2 229.9L819.8 229.5L820.4 228.9L821 228.4L821.6 227.8L822.2 227.1L822.8 226.5L823.3 225.8L824 225L824.6 224.3L825.1 223.6L825.7 222.9L826.2 222.3L826.8 221.8L827.4 221.3L828 221L828.6 220.7L829.3 220.5L829.9 220.5L830.6 220.6L831.3 220.8L832 221.1L832.7 221.4L833.5 221.9L834.3 222.3L835.1 222.8L836 223.3L836.9 223.7L837.9 224.3L839 224.9L840.1 225.3L841.2 225.6L842.3 225.9L843.3 226L844.3 226.1L845.3 226.1L846.2 226L847 225.8L848 225.5L848.9 225.1L849.7 224.6L850.5 224L851.3 223.3L852.1 222.6L852.8 221.8L853.6 221L854.4 220.2L855.4 219.4L856.4 218.6L857.5 217.9L858.7 217.2L859.9 216.6L861.1 216.2L862.3 215.8L863.4 215.6L864.5 215.6L865.5 215.6L866.5 215.8L867.5 216.2L868.5 216.8L869.4 217.5L870.2 218.3L870.9 219.2L871.6 220.3L872.4 221.4L873.1 222.5L873.9 223.7L874.8 224.9L875.6 226.3L876.7 227.6L877.8 228.8L879 229.8L880.1 230.8L881.3 231.6L882.4 232.2L883.5 232.7L884.6 233.1L885.6 233.3L886.8 233.5L888.1 233.4L889.3 233.3L890.5 232.9L891.7 232.5L892.9 231.9L894.2 231.3L895.4 230.7L896.8 230.2L898.2 229.7L899.9 229.2L901.6 228.8L903.3 228.5L904.9 228.3L906.6 228.4L908.1 228.6L909.5 228.9L910.7 229.4L911.8 230.1L912.8 230.9L913.5 231.9L914 233.1L914.4 234.4L914.6 235.8L914.6 237.3L914.5 238.8L914.3 240.5L914 242.1L913.6 243.8L913.2 245.5L912.4 247.1L911.8 248.9L911.2 250.6L910.8 252.3L910.4 253.9L910.1 255.5L910 257L910 258.4L910.3 259.7L910.8 261L911.3 262.2L912.1 263.3L913.1 264.3L914.3 265.2L915.6 266.1L917 267L918.6 267.9L920.2 268.8L921.9 269.7L923.5 270.8L925.3 271.9L926.9 273.1L928.5 274.4L929.9 275.8L931.2 277.1L932.2 278.5L933 279.8L933.6 281L933.9 282.1L934.1 283.2L933.9 284.5L933.4 285.8L932.7 287L931.8 288.2L930.7 289.4L929.4 290.6L928 291.9L926.5 293.3L924.9 294.8L923.3 296.4L921.6 298.1L920 300L918.5 301.9L917.3 304L916.2 306.1L915.4 308.3L914.9 310.5L914.7 312.7L914.9 314.9L915.3 316.9L916 318.8L916.9 320.5L918.2 322.2L919.7 323.7L921.4 325.2L923.4 326.5L925.5 327.8L927.8 328.9L930.2 330L932.6 331L935.1 332L937.6 333.1L940 334.2L942.3 335.3L944.5 336.5L946.5 337.6L948.2 338.7L949.7 339.7L950.8 340.6L951.8 341.6L952.6 343L953.3 344.7L953.6 346.4L953.7 348.1L953.7 349.9L953.6 351.8L953.5 353.9L953.6 356.3L954.4 359L956.1 361.7L958.8 364.2L962.3 365.7L966 366.5L969.6 366.6L973.1 366.4L976.3 365.8L979.2 365.1L981.7 364.2L983.9 363.3L986 362.2L988.5 360.7L991 358.6L993.1 356.3L994.9 353.8L996.4 351.2L997.7 348.6L998.9 346L1000 343.4L1001.3 341L1002.9 338.8L1005 337L1007.5 335.5L1010.4 334.5L1013.3 333.8L1016.3 333.6L1019.2 333.7L1021.9 334.1L1024.3 334.7L1026.4 335.5L1028.4 336.6L1030.4 338.2L1032.2 340.3L1033.7 342.6L1034.9 345L1035.8 347.6L1036.5 350.4L1037.2 353.3L1037.8 356.3L1038.5 359.5L1039.3 362.7L1040 366.2L1041.1 369.7L1042.4 373.2L1043.8 376.4L1045.4 379.5L1047 382.3L1048.7 384.8L1050.3 387L1052 388.9L1053.8 390.5L1055.9 392.2L1058.3 393.7L1060.8 394.9L1063.5 395.8L1066.2 396.5L1069.1 397.1L1071.9 397.5L1074.8 398.1L1077.7 398.7L1080.6 399.7L1084.1 400.9L1087.3 402.7L1090.2 404.9L1092.8 407.5L1094.9 410.3L1096.5 413.2L1097.7 415.9L1098.4 418.5L1098.7 420.7L1098.6 423L1097.7 425.7L1096.2 428.3L1094.3 430.5L1092 432.3L1089.4 433.9L1086.5 435.3L1083.3 436.6L1079.9 438L1076.3 439.6L1072.6 441.4L1068.9 443.7L1065.3 446.2L1062 449L1059 451.9L1056.3 454.7L1054 457.6L1052 460.3L1050.4 462.9L1049.3 465.3L1048.4 467.8L1047.8 470.7L1047.5 473.9L1047.7 477.1L1048.4 480.3L1049.3 483.4L1050.5 486.6L1051.8 489.8L1053 493.1L1054.1 496.5L1054.7 500.1L1054.8 504L1054.2 508L1053 511.9L1051.3 515.5L1049.3 518.8L1047 521.7L1044.7 524.1L1042.5 526L1040.4 527.4L1038 528.4L1034.8 529L1031.4 529L1028.2 528.4L1025.1 527.3L1022.1 525.8L1019.1 524L1016 521.9L1012.7 519.7L1009.2 517.4L1005.4 515.3L1001.2 513.3L996.8 511.7L992.3 510.5L988 509.6L983.9 509.1L980 508.9L976.5 509L973.3 509.3L970.6 510L968 511L965.1 512.4L962.4 514.4L960 516.8L957.9 519.6L956.1 522.6L954.4 525.8L952.8 529.2L951.1 532.7L949.2 536.3L946.9 539.8L944.2 544.1L941.5 548L938.6 551.4L935.6 554.4L932.6 556.7L929.9 558.5L927.3 559.7Z" fill="#0f5799"/><path d="M926.3 515.4L929 518.4L931.4 521.8L933.8 525.5L936.2 529.7L938.8 534L941.7 538.5L945.8 542.6L949.6 545.7L953.7 548.3L958 550.3L962.4 551.8L966.7 552.8L970.9 553.4L974.8 553.4L978.4 553.1L981.6 552.4L984.8 551.2L988.1 549.5L991.3 547.2L994 544.4L996.2 541.2L998.1 537.8L999.6 534.2L1001 530.4L1002.3 526.5L1003.7 522.5L1005.2 518.5L1007.1 514.8L1009.3 511.2L1011.7 507.7L1014.2 504.6L1016.7 501.8L1019.2 499.3L1021.4 497.3L1023.4 495.7L1025 494.6L1026.8 493.8L1029.2 493.4L1031.9 493.4L1034.4 493.9L1036.7 494.9L1039.1 496.1L1041.6 497.6L1044.4 499.3L1047.7 501L1051.5 502.3L1055.9 503L1060.5 502.7L1065 501.6L1069.3 499.8L1073.3 497.5L1076.9 494.9L1080 492L1082.5 488.9L1084.6 485.9L1086.1 482.9L1087.2 479.6L1088 476L1088.3 472L1087.9 468.1L1087 464.3L1085.6 460.5L1083.9 456.9L1081.8 453.4L1079.6 450L1077.3 446.7L1075.1 443.3L1072.9 439.9L1071 436.5L1069.2 433L1067.7 429.8L1066.4 426.7L1065.3 423.9L1064.4 421.6L1063.8 419.7L1063.5 418.3L1063.6 417L1064.2 415.4L1065.3 413.7L1066.6 412.4L1068.3 411.3L1070.3 410.3L1072.7 409.2L1075.3 407.7L1078.2 405.9L1081 403.3L1083.6 399.9L1084.8 396.1L1085.4 392.3L1085.4 388.4L1084.9 384.6L1083.9 381L1082.7 377.6L1081.1 374.5L1079.3 371.8L1077.3 369.4L1075.1 367.3L1072.5 365.2L1069.5 363.5L1066.3 362.1L1062.9 361.2L1059.5 360.6L1056 360.3L1052.5 360.3L1049 360.4L1045.4 360.6L1042 360.8L1038.7 360.7L1035.5 360.5L1032.3 360.2L1029.3 359.8L1026.4 359.3L1023.8 358.8L1021.5 358.2L1019.5 357.6L1017.8 356.9L1016.2 356.1L1014.6 354.8L1013.1 353.1L1012 351.4L1011.1 349.6L1010.4 347.6L1009.7 345.5L1008.9 343.2L1007.8 340.8L1006.1 338.2L1003.7 335.9L1000.5 333.9L996.8 332.6L993 332L989.2 331.9L985.6 332.2L982.2 332.8L979.2 333.6L976.6 334.5L974.3 335.4L972.2 336.5L969.6 338.1L967.1 340.2L965 342.6L963.4 345L962 347.5L961 350.1L960.1 352.6L959.3 355L958.4 357.2L957.2 359.2L955.3 360.6L952.8 361.5L950.1 361.9L947.2 361.7L944.5 361.2L941.9 360.3L939.6 359.1L937.7 357.9L936.1 356.6L934.7 355.2L933.5 353.2L932.6 350.9L932.1 348.5L932 346L932.1 343.5L932.4 340.9L933 338.4L933.7 335.8L934.5 333.3L935.3 330.8L936.1 328.5L937 326.2L937.8 324L938.6 321.9L939.3 319.9L939.8 318L940.1 316.1L940.2 314.3L940.1 312.5L939.7 310.9L939.1 309.4L938.4 307.9L937.3 306.5L936.1 305.2L934.7 303.9L933.1 302.5L931.3 301.2L929.5 299.8L927.5 298.5L925.6 297.2L923.9 295.9L922.2 294.4L920.6 293L919.2 291.5L918 290.1L917 288.7L916.1 287.3L915.5 286.1L915.2 284.9L915 283.8L915.2 282.5L915.7 281.2L916.4 280.1L917.3 279L918.4 278L919.6 276.9L921 275.7L922.6 274.5L924.1 273.1L925.6 271.4L926.9 269.7L928.1 267.9L929.1 266.1L930 264.2L930.6 262.3L931 260.4L931.2 258.5L931.1 256.8L930.8 255.2L930.2 253.7L929.5 252.2L928.6 250.9L927.4 249.7L926 248.6L924.5 247.7L922.8 247L920.9 246.3L919 245.8L917.1 245.4L915.1 245.2L913.3 244.9L911.6 244.6L909.9 244.4L908.3 244.1L906.8 243.8L905.5 243.5L904.4 243.2L903.4 242.8L902.5 242.3L901.9 241.7L901.4 241L901 240.1L900.8 239.1L900.6 238L900.6 236.7L900.5 235.3L900.5 233.8L900.4 232.1L900.2 230.4L899.6 228.6L899 226.9L898.2 225.3L897.2 223.8L896.2 222.5L895 221.3L893.8 220.4L892.6 219.6L891.3 218.9L890.1 218.5L888.9 218.2L887.5 218L886 218L884.6 218.3L883.2 218.7L881.9 219.3L880.6 220L879.4 220.8L878.2 221.7L876.9 222.6L875.7 223.4L874.4 224.1L873.1 224.6L871.7 225.2L870.4 225.6L869.1 225.9L867.9 226.2L866.8 226.3L865.8 226.4L864.8 226.3L863.9 226.2L863 225.8L862.2 225.3L861.4 224.6L860.7 223.9L860 223L859.3 222.1L858.6 221.1L857.9 220.1L857 219L855.9 218L854.8 217.1L853.7 216.4L852.5 215.8L851.3 215.3L850.1 214.9L848.9 214.6L847.7 214.5L846.6 214.5L845.6 214.6L844.7 214.8L843.6 215.1L842.6 215.6L841.7 216.2L840.9 216.9L840.1 217.7L839.4 218.5L838.8 219.4L838.2 220.4L837.6 221.3L837 222.3L836.4 223.1L835.8 223.9L835.1 224.6L834.5 225.3L833.8 225.9L833.2 226.4L832.5 226.9L831.9 227.3L831.3 227.5L830.7 227.7L830 227.7L829.4 227.6L828.7 227.4L828.1 227.1L827.4 226.8L826.7 226.4L826 225.9L825.3 225.4L824.5 224.9L823.5 224.6L822.7 224.2L821.8 223.8L821 223.5L820.2 223.2L819.4 223L818.5 222.9L817.7 222.8L817 222.8L816.2 222.9L815.5 223L814.8 223.2L814.1 223.5L813.5 223.9L812.9 224.3L812.3 224.9L811.7 225.4L811.2 226L810.6 226.7L810.1 227.4L809.7 228.1L809.2 228.6L808.7 229.2L808.2 229.8L807.7 230.3L807.2 230.7L806.8 231.2L806.3 231.5L805.8 231.8L805.2 232.1L804.7 232.2L804.2 232.3L803.6 232.3L803.1 232.2L802.5 232L802 231.8L801.4 231.6L800.8 231.3L800.2 231L799.5 230.7L798.8 230.4L798.2 230.2L797.5 230L796.9 229.9L796.2 229.7L795.6 229.7L794.9 229.6L794.3 229.6L793.7 229.7L793.1 229.8L792.5 230L792 230.1L791.4 230.4L790.9 230.6L790.4 230.9L789.9 231.3L789.5 231.7L789 232.1L788.6 232.6L788.1 233.1L787.7 233.5L787.3 233.9L786.9 234.3L786.4 234.7L786 235L785.5 235.3L785.1 235.6L784.6 235.8L784.1 236.1L783.7 236.2L783.2 236.4L782.7 236.4L782.2 236.4L781.8 236.3L781.3 236.2L780.8 236.1L780.3 235.9L779.8 235.7L779.3 235.5L778.8 235.3L778.2 235.1L777.7 235L777.1 235L776.6 234.9L776.1 234.9L775.6 234.9L775.1 234.9L774.6 234.9L774.1 235L773.6 235.1L773.2 235.2L772.7 235.3L772.2 235.4L771.8 235.6L771.3 235.8L770.9 236L770.5 236.2L770.1 236.4L769.6 236.7L769.2 236.9L768.8 237.2L768.4 237.3L768 237.5L767.6 237.7L767.1 237.8L766.7 237.9L766.3 238L765.8 238.1L765.4 238.2L765 238.2L764.5 238.3L764.1 238.2L763.7 238.2L763.2 238.1L762.8 238L762.4 237.8L761.9 237.7L761.5 237.6L761.1 237.4L760.6 237.3L760.2 237.2L759.8 238.8L760.3 238.9L760.7 239L761.2 239L761.7 239.1L762.2 239.1L762.7 239.1L763.1 239.1L763.6 239.1L764.1 239L764.6 239L765 238.9L765.5 238.9L766 238.8L766.4 238.7L766.9 238.6L767.3 238.5L767.8 238.3L768.2 238.2L768.7 238L769.2 237.8L769.6 237.6L770 237.3L770.4 237.1L770.8 236.9L771.2 236.6L771.6 236.5L772.1 236.3L772.5 236.1L772.9 236L773.3 235.9L773.7 235.9L774.1 236L774.6 236L775 236.1L775.4 236.2L775.9 236.4L776.3 236.5L776.8 236.6L777.3 236.8L777.8 236.9L778.3 237L778.8 237.2L779.4 237.3L780 237.4L780.6 237.4L781.2 237.4L781.7 237.4L782.3 237.3L782.8 237.2L783.4 237.1L783.9 236.9L784.4 236.8L784.9 236.5L785.4 236.3L785.9 235.9L786.4 235.6L786.9 235.2L787.3 234.9L787.8 234.5L788.3 234.1L788.7 233.6L789.2 233.2L789.6 232.7L790 232.3L790.4 231.9L790.9 231.6L791.3 231.3L791.8 231.1L792.2 230.9L792.7 230.8L793.2 230.7L793.7 230.7L794.2 230.8L794.7 231L795.3 231.1L795.8 231.3L796.4 231.5L797 231.8L797.6 232L798.2 232.2L798.8 232.5L799.5 232.7L800.2 233L800.9 233.1L801.6 233.3L802.3 233.4L803 233.4L803.7 233.3L804.3 233.2L804.9 233L805.5 232.8L806.1 232.5L806.7 232.2L807.3 231.8L807.8 231.3L808.3 230.8L808.8 230.3L809.3 229.7L809.8 229.2L810.3 228.5L810.8 227.9L811.3 227.2L811.8 226.6L812.3 226L812.9 225.5L813.4 225L814 224.6L814.5 224.3L815.1 224.1L815.7 223.9L816.3 223.9L816.9 223.9L817.6 224.1L818.2 224.3L818.9 224.5L819.6 224.9L820.3 225.2L821 225.6L821.8 226L822.5 226.4L823.1 227.1L824 227.6L824.9 228L825.7 228.4L826.6 228.7L827.5 228.9L828.4 229L829.3 229L830.1 228.9L830.9 228.8L831.7 228.6L832.4 228.2L833.1 227.8L833.9 227.3L834.6 226.7L835.3 226.1L835.9 225.4L836.6 224.6L837.3 223.8L838 222.9L838.6 221.9L839.2 221L839.8 220.1L840.4 219.2L841 218.4L841.7 217.7L842.4 217.1L843.2 216.6L844 216.2L844.9 216L845.7 215.9L846.6 216L847.5 216.2L848.4 216.5L849.4 216.9L850.3 217.4L851.3 218L852.3 218.6L853.2 219.3L854.1 220L854.8 221L855.6 221.9L856.4 222.9L857.3 223.8L858.2 224.7L859.2 225.5L860.3 226.2L861.3 226.7L862.5 227.1L863.6 227.4L864.7 227.6L865.8 227.7L866.9 227.6L868.2 227.4L869.4 227.2L870.8 226.8L872.2 226.4L873.6 225.8L874.9 225.2L876.3 224.6L877.7 223.7L879 222.9L880.2 222L881.4 221.2L882.6 220.6L883.7 220.1L884.9 219.7L886.2 219.5L887.4 219.4L888.6 219.6L889.6 220L890.5 220.5L891.3 221.3L892.2 222.1L893.1 223.2L893.9 224.3L894.6 225.5L895.3 226.8L895.9 228.2L896.4 229.4L896.5 231L896.7 232.6L897 234.2L897.3 235.7L897.6 237.2L898 238.5L898.5 239.8L899.1 241L899.9 242L900.7 242.9L901.6 243.6L902.6 244.2L903.8 244.7L905.1 245.1L906.5 245.4L908 245.7L909.7 246L911.3 246.2L913.1 246.5L914.9 246.8L916.8 247.2L918.6 247.6L920.4 248.1L922.1 248.7L923.6 249.4L925 250.2L926.2 251.1L927.2 252.1L928 253.1L928.5 254.3L928.8 255.5L928.8 256.8L928.5 258.2L928.1 259.6L927.4 261.1L926.7 262.6L925.7 264.1L924.7 265.7L923.6 267.2L922.4 268.6L921 269.9L919.6 271.3L918.2 272.7L916.9 274.1L915.7 275.6L914.7 277.1L913.9 278.7L913.3 280.4L913.1 282.2L913.1 283.8L913.3 285.3L913.7 286.8L914.4 288.3L915.3 289.8L916.5 291.3L917.8 292.8L919.3 294.4L920.9 295.9L922.6 297.4L924.4 298.8L926.3 300.2L928.2 301.5L930.1 302.8L931.8 304.1L933.3 305.4L934.6 306.7L935.7 307.9L936.6 309L937.3 310.2L937.7 311.4L937.7 312.7L937.5 314L937.1 315.4L936.5 316.9L935.7 318.5L934.8 320.3L933.7 322.2L932.7 324.4L931.7 326.7L930.7 329.2L929.7 331.8L928.9 334.6L928.4 337.5L928 340.4L928 343.4L928.3 346.3L929 349.2L930 351.9L931.4 354.4L933 356.6L934.6 358.3L936.4 359.7L938.6 361.1L941.1 362.3L943.9 363.3L946.9 363.9L950.2 364.1L953.4 363.7L956.3 362.6L958.8 360.8L960.5 358.3L961.5 355.8L962.3 353.3L963.1 350.9L964.1 348.5L965.4 346.2L966.9 344L968.7 341.9L971 340L973.3 338.6L975.3 337.9L977.4 337.4L979.9 336.9L982.8 336.6L985.9 336.5L989.1 336.6L992.4 337L995.4 337.7L998.1 338.7L1000.3 340.1L1001.9 341.8L1003.2 343.5L1004.3 345.4L1005.3 347.4L1006.4 349.5L1007.7 351.5L1009.1 353.4L1010.9 355.2L1012.9 356.8L1015 358.1L1016.8 359.1L1018.7 359.9L1020.9 360.5L1023.3 361.1L1026 361.7L1028.9 362.1L1032 362.6L1035.3 362.9L1038.6 363.1L1042 363.2L1045.6 363L1049.1 362.9L1052.5 362.8L1055.9 362.8L1059.2 363.1L1062.4 363.6L1065.5 364.5L1068.4 365.7L1071.1 367.3L1073.4 369.1L1075.1 371.2L1076.6 373.5L1077.8 376.1L1078.8 379L1079.5 382.1L1079.9 385.3L1080 388.5L1079.8 391.7L1079.3 394.7L1078.4 397.1L1076.7 399.5L1074.6 401.5L1072.4 403.2L1070.1 404.8L1067.9 406.4L1065.8 408L1064 409.8L1062.5 412L1061.6 414.3L1061.1 416.6L1061 418.5L1061.4 420.3L1062 422.4L1062.9 424.8L1064 427.7L1065.4 430.8L1067 434.1L1068.8 437.6L1070.8 441.2L1072.9 444.7L1075.2 448.1L1077.5 451.4L1079.7 454.8L1081.6 458.1L1083.3 461.5L1084.5 465L1085.4 468.5L1085.7 472L1085.5 475.6L1084.8 478.9L1083.5 481.6L1081.8 484.1L1079.7 486.5L1077.1 488.9L1074.1 491.1L1070.7 493.2L1067.1 494.9L1063.4 496.1L1059.7 496.9L1056.1 497L1052.9 496.5L1049.8 495.5L1046.9 494.3L1044 493L1041.1 491.8L1038.2 490.8L1035.1 490.2L1032 490.1L1028.8 490.5L1026 491.3L1023.8 492.3L1021.8 493.6L1019.7 495.3L1017.4 497.5L1014.9 500L1012.3 502.9L1009.6 506.2L1007.1 509.7L1004.8 513.5L1002.8 517.5L1001.2 521.6L999.8 525.6L998.5 529.5L997.2 533.2L995.7 536.7L994 539.8L991.9 542.7L989.5 545.2L986.7 547.3L983.8 548.8L981 549.5L978.1 549.7L975 549.5L971.5 549L967.9 548.1L964.1 546.8L960.3 545.1L956.7 543.1L953.2 540.8L950.2 538.4L947.8 534.1L944.8 530L942 525.9L939.2 521.9L936.2 518.1L933 514.7L929.5 511.9Z" fill="#0f5799"/></g><circle cx="638" cy="541.8" r="10" fill="url(#sph)"/><g fill="#8b2349"><circle cx="622" cy="521" r="11.5"/><circle cx="637" cy="516" r="13"/><circle cx="656" cy="520" r="15"/><circle cx="650" cy="536" r="14"/><circle cx="645" cy="488" r="9.5"/><circle cx="668" cy="512" r="11"/><circle cx="664" cy="534" r="12"/><circle cx="632" cy="530" r="10"/><circle cx="661" cy="494" r="9"/><circle cx="617" cy="520" r="8.5"/></g><circle cx="658" cy="483.8" r="8" fill="url(#sph)"/><path d="M336.7 558H598C611 558 615 549 619 541L623 534" fill="none" stroke="#a2309b" stroke-width="4.2"/><path d="M342 549.5V556.5M357.3 549.5V556.5M372.5 549.5V556.5M387.8 549.5V556.5M403.1 549.5V556.5M418.4 549.5V556.5M433.6 549.5V556.5M448.9 549.5V556.5M464.2 549.5V556.5M479.4 549.5V556.5M494.7 549.5V556.5M510 549.5V556.5M525.2 549.5V556.5M540.5 549.5V556.5M555.8 549.5V556.5M571 549.5V556.5M586.3 549.5V556.5M601.6 549.5V556.5" stroke="#0f5799" stroke-width="3.3" fill="none"/><g transform="scale(1.075,1)" font-size="16.3" text-anchor="middle"><text x="318.14 360.75 417.57 460.19 545.41 559.62 630.64 644.85 744.28 772.69 801.10 815.30" y="523.3" fill="#3fa24e" stroke="#3fa24e" stroke-width="0.35">AAAAAAAAAAAA</text><text x="332.34 431.78 659.05 673.26 786.89" y="523.3" fill="#de3d2b" stroke="#de3d2b" stroke-width="0.35">TTTTT</text><text x="346.55 389.16 403.37 474.39 517.00 687.46 701.67 730.07" y="523.3" fill="#42301c" stroke="#42301c" stroke-width="0.35">GGGGGGGG</text><text x="374.96 445.98 488.60 502.80 531.21 715.87 758.48" y="523.3" fill="#fff9e8" stroke="#fff9e8" stroke-width="0.35">CCCCCCC</text><text x="573.82 602.23 616.44" y="523.3" fill="#3b1226" stroke="#3b1226" stroke-width="0.35">GGG</text><text x="588.03" y="523.3" fill="#f9d9e6" stroke="#f9d9e6" stroke-width="0.35">C</text></g><g transform="scale(1.075,1)" font-size="16.3" text-anchor="middle"><text x="318.14 360.75 417.57 460.19 545.41 559.62" y="544" fill="#de3d2b" stroke="#de3d2b" stroke-width="0.35">UUUUUU</text><text x="332.34 431.78" y="544" fill="#3fa24e" stroke="#3fa24e" stroke-width="0.35">AA</text><text x="346.55 389.16 403.37 474.39 517.00" y="544" fill="#fff9e8" stroke="#fff9e8" stroke-width="0.35">CCCCC</text><text x="374.96 445.98 488.60 502.80 531.21" y="544" fill="#42301c" stroke="#42301c" stroke-width="0.35">GGGGG</text></g><g transform="scale(1.075,1)" font-size="16.3" text-anchor="middle"><text x="318.14 360.75 417.57 460.19 545.41 559.62 630.64 644.85 744.28 772.69 801.10 815.30" y="618" fill="#de3d2b" stroke="#de3d2b" stroke-width="0.35">TTTTTTTTTTTT</text><text x="332.34 431.78 659.05 673.26 786.89" y="618" fill="#3fa24e" stroke="#3fa24e" stroke-width="0.35">AAAAA</text><text x="346.55 389.16 403.37 474.39 517.00 573.82 602.23 616.44 687.46 701.67 730.07" y="618" fill="#fff9e8" stroke="#fff9e8" stroke-width="0.35">CCCCCCCCCCC</text><text x="374.96 445.98 488.60 502.80 531.21 588.03 715.87 758.48" y="618" fill="#42301c" stroke="#42301c" stroke-width="0.35">GGGGGGGG</text></g><circle cx="671.2" cy="486.2" r="11" fill="url(#sph)"/><circle cx="631.2" cy="491.2" r="11.8" fill="url(#sph)"/><circle cx="675.6" cy="500.5" r="11.2" fill="url(#sph)"/><circle cx="652.2" cy="500.2" r="9.6" fill="url(#sph)"/><circle cx="677.6" cy="533.6" r="12.2" fill="url(#sph)"/><circle cx="636.8" cy="536" r="12.8" fill="url(#sph)"/><circle cx="683" cy="548" r="10.3" fill="url(#sph)"/><circle cx="662.3" cy="549.8" r="12" fill="url(#sph)"/><path d="M264 519.4C267 519 275.8 517.9 282 516.7C288.2 515.6 296 514.5 301 512.5C306 510.5 308.5 506.6 312 504.5C315.5 502.4 318.3 500.7 322 499.8C325.7 498.9 332 499.1 334 499H893C902 499.2 907 503 914 508.5C919 512 922.9 512.5 927.9 513.7" fill="none" stroke="#0f5799" stroke-width="3.4" stroke-linejoin="round"/><path d="M264 519.4C264.6 521.7 265.8 527.9 267.8 533C269.8 538.1 272.8 545.8 276 550C279.2 554.2 283.3 556.2 287 558C290.7 559.8 294.7 559.2 298 561C301.3 562.8 304.1 564.2 306.7 569C309.2 573.8 311.2 583.7 313.3 590C315.4 596.3 317.4 601.5 319.2 606.7C321 612 322.6 617.9 324.2 621.5C325.8 625.1 326.8 626.8 328.5 628.3C330.2 629.8 333.5 630.4 334.5 630.8H886C896 631 899 625 902 615.5C905 606 907 598 909 591C911.5 582 913 576 915.5 571C918 566 923 562.7 928 561.2" fill="none" stroke="#0f5799" stroke-width="3.4" stroke-linejoin="round"/><path d="M285.4 514.2L280.4 521.8" stroke="#1c1a1a" stroke-width="3" fill="none"/><path d="M277.6 525.4L272.6 531" stroke="#2e8bd6" stroke-width="3" fill="none"/><path d="M260.1 508L260.2 508.6L260.3 509.2L260.3 509.8L260.4 510.4L260.5 511L260.6 511.5L260.7 512.1L260.7 512.7L260.8 513.2L260.8 513.7L260.8 514.2L260.8 514.6L260.8 514.9L260.7 515.4L260.7 516L260.7 516.6L260.7 517.3L260.8 518.2L260.9 519.1L261.1 520.1L261.3 521.3L261.5 522.5L261.8 523.8L262.1 525.2L262.4 526.7L262.8 528.2L263.2 529.8L263.7 531.4L264.2 533L264.7 534.6L265.4 536.1L266.1 537.8L266.9 539.5L267.7 541.2L268.6 543L269.4 544.8L270.4 546.5L271.4 548.2L272.4 549.8L273.5 551.3L274.7 552.5L275.9 553.7L277.2 554.7L278.4 555.6L279.7 556.5L281 557.2L282.2 557.9L283.5 558.5L284.7 559L285.9 559.5L287.1 560.1L288.4 560.5L289.6 560.9L290.8 561.2L292 561.5L293.1 561.7L294.2 561.9L295.3 562.1L296.4 562.4L297.5 562.6L298.5 559.4L297.4 559L296.2 558.6L295.1 558.3L294 558L293 557.6L291.9 557.3L290.9 556.9L290 556.5L289 556L288.1 555.5L287.1 554.8L286.2 554L285.2 553.2L284.3 552.4L283.4 551.6L282.6 550.7L281.7 549.8L281 548.8L280.2 547.8L279.5 546.7L278.8 545.6L278 544.3L277.2 542.8L276.5 541.3L275.7 539.6L275 538L274.2 536.3L273.6 534.6L272.9 533L272.3 531.4L271.6 530L270.9 528.6L270.3 527.2L269.7 525.9L269.2 524.5L268.6 523.2L268.1 521.9L267.7 520.7L267.3 519.6L266.9 518.7L266.7 517.9L266.5 517.2L266.4 516.7L266.3 516.3L266.3 515.9L266.3 515.4L266.2 515L266.2 514.4L266.1 513.8L266 513.1L265.9 512.4L265.7 511.8L265.6 511.2L265.5 510.6L265.3 510L265.2 509.5L265 508.9L264.9 508.3L264.7 507.8L264.6 507.2Z" fill="#0f5799"/><path d="M927.5 515.7L928.2 536.4" stroke="#1bb14b" stroke-width="3.6" fill="none"/><path d="M927.8 538.4L928.4 559.7" stroke="#c9254f" stroke-width="3.6" fill="none"/><path d="M293 515.5L290.2 535" stroke="#c9254f" stroke-width="3.6" fill="none"/><path d="M289.9 537.5L287.5 556.5" stroke="#1bb14b" stroke-width="3.6" fill="none"/><path d="M342 500V507M357.3 500V507M372.5 500V507M387.8 500V507M403.1 500V507M418.4 500V507M433.6 500V507M448.9 500V507M464.2 500V507M479.4 500V507M494.7 500V507M510 500V507M525.2 500V507M540.5 500V507M555.8 500V507M571 500V507M586.3 500V507M601.6 500V507M616.9 500V507M632.1 500V507M647.4 500V507M662.7 500V507M677.9 500V507M693.2 500V507M708.5 500V507M723.8 500V507M739 500V507M754.3 500V507M769.6 500V507M784.8 500V507M800.1 500V507M815.4 500V507M830.6 500V507M845.9 500V507M861.2 500V507M876.4 500V507" stroke="#0f5799" stroke-width="3.3" fill="none"/><path d="M342 623.5V630M357.3 623.5V630M372.5 623.5V630M387.8 623.5V630M403.1 623.5V630M418.4 623.5V630M433.6 623.5V630M448.9 623.5V630M464.2 623.5V630M479.4 623.5V630M494.7 623.5V630M510 623.5V630M525.2 623.5V630M540.5 623.5V630M555.8 623.5V630M571 623.5V630M586.3 623.5V630M601.6 623.5V630M616.9 623.5V630M632.1 623.5V630M647.4 623.5V630M662.7 623.5V630M677.9 623.5V630M693.2 623.5V630M708.5 623.5V630M723.8 623.5V630M739 623.5V630M754.3 623.5V630M769.6 623.5V630M784.8 623.5V630M800.1 623.5V630M815.4 623.5V630M830.6 623.5V630M845.9 623.5V630M861.2 623.5V630M876.4 623.5V630" stroke="#0f5799" stroke-width="3.3" fill="none"/><circle cx="671.2" cy="486.2" r="11" fill="url(#sph)" opacity="0.38"/><circle cx="631.2" cy="491.2" r="11.8" fill="url(#sph)" opacity="0.38"/><circle cx="675.6" cy="500.5" r="11.2" fill="url(#sph)" opacity="0.38"/><circle cx="652.2" cy="500.2" r="9.6" fill="url(#sph)" opacity="0.38"/><path d="M650 488V470H686" fill="none" stroke="#231f20" stroke-width="1.7"/><path d="M696 470L683.5 464.3L686.5 470L683.5 475.7Z" fill="#231f20"/><path d="M336.7 806.2H886" fill="none" stroke="#a2309b" stroke-width="4.2"/><path d="M342 797.5V804.5M357.3 797.5V804.5M372.5 797.5V804.5M387.8 797.5V804.5M403.1 797.5V804.5M418.4 797.5V804.5M433.6 797.5V804.5M448.9 797.5V804.5M464.2 797.5V804.5M479.4 797.5V804.5M494.7 797.5V804.5M510 797.5V804.5M525.2 797.5V804.5M540.5 797.5V804.5M555.8 797.5V804.5M571 797.5V804.5M586.3 797.5V804.5M601.6 797.5V804.5M616.9 797.5V804.5M632.1 797.5V804.5M647.4 797.5V804.5M662.7 797.5V804.5M677.9 797.5V804.5M693.2 797.5V804.5M708.5 797.5V804.5M723.8 797.5V804.5M739 797.5V804.5M754.3 797.5V804.5M769.6 797.5V804.5M784.8 797.5V804.5M800.1 797.5V804.5M815.4 797.5V804.5M830.6 797.5V804.5M845.9 797.5V804.5M861.2 797.5V804.5M876.4 797.5V804.5" stroke="#0f5799" stroke-width="3" fill="none"/><g transform="scale(1.075,1)" font-size="16.3" text-anchor="middle"><text x="318.14 360.75 417.57 460.19 545.41 559.62 630.64 644.85 744.28 772.69 801.10 815.30" y="792.6" fill="#de3d2b" stroke="#de3d2b" stroke-width="0.35">UUUUUUUUUUUU</text><text x="332.34 431.78 659.05 673.26 786.89" y="792.6" fill="#3fa24e" stroke="#3fa24e" stroke-width="0.35">AAAAA</text><text x="346.55 389.16 403.37 474.39 517.00 573.82 602.23 616.44 687.46 701.67 730.07" y="792.6" fill="#a3b9c6" stroke="#a3b9c6" stroke-width="0.35">CCCCCCCCCCC</text><text x="374.96 445.98 488.60 502.80 531.21 588.03 715.87 758.48" y="792.6" fill="#42301c" stroke="#42301c" stroke-width="0.35">GGGGGGGG</text></g><path d="M325 561.5C321 566.1 308.3 577.6 301 589C293.7 600.4 286.2 616.5 281 630C275.8 643.5 272.5 657.8 270 670C267.5 682.2 266.1 693 266 703C265.9 713 268.2 722.9 269.4 730C270.6 737.1 271.4 740.7 273.3 745.6C275.2 750.5 278.4 755.6 281 759.5C283.6 763.4 286.2 765.9 288.9 768.9C291.6 771.9 295.6 776.1 297 777.5" fill="none" stroke="#231f20" stroke-width="2"/><path d="M306.2 786.6L300.9 770L296.9 778L288.3 781.3Z" fill="#231f20"/><text x="318.7" y="489" font-size="16.5" fill="#272019" stroke="#272019" stroke-width="0.3" text-anchor="start">3’</text><text x="346" y="487.5" font-size="16" fill="#272019" stroke="#272019" stroke-width="0.3" text-anchor="start" textLength="129" lengthAdjust="spacingAndGlyphs">Antisense strand</text><text x="714.5" y="488.7" font-size="16" fill="#272019" stroke="#272019" stroke-width="0.3" text-anchor="start" textLength="129" lengthAdjust="spacingAndGlyphs">RNA polymerase</text><text x="910" y="499" font-size="16.5" fill="#272019" stroke="#272019" stroke-width="0.3" text-anchor="start">5’</text><text x="346.4" y="575.3" font-size="16" fill="#272019" stroke="#272019" stroke-width="0.3" text-anchor="start" textLength="117.3" lengthAdjust="spacingAndGlyphs">RNA Transcript</text><text x="303" y="625.8" font-size="16.5" fill="#272019" stroke="#272019" stroke-width="0.3" text-anchor="start">5’</text><text x="346" y="648.5" font-size="16" fill="#272019" stroke="#272019" stroke-width="0.3" text-anchor="start" textLength="101.3" lengthAdjust="spacingAndGlyphs">Sense strand</text><text x="913" y="638" font-size="16.5" fill="#272019" stroke="#272019" stroke-width="0.3" text-anchor="start">3’</text><text x="315" y="739.9" font-size="15" fill="#272019" stroke="#272019" stroke-width="0.3" text-anchor="start" textLength="180" lengthAdjust="spacingAndGlyphs">Messenger RNA (mRNA)</text><text x="315" y="757.6" font-size="15" fill="#272019" stroke="#272019" stroke-width="0.3" text-anchor="start" textLength="603" lengthAdjust="spacingAndGlyphs">an RNA version of the gene that leaves the cell nucleus and moves to the cytoplasm</text><text x="334.2" y="831.7" font-size="23.3" fill="#272019" stroke="#272019" stroke-width="0.3" text-anchor="start" textLength="75" lengthAdjust="spacingAndGlyphs">mRNA</text><path d="M140 77.5C147.7 76.9 156.7 77.9 165 80C173.3 82.1 182.5 85.8 190 90C197.5 94.2 204.6 99.6 210 105C215.4 110.4 219.8 116.7 222.5 122.5C225.2 128.3 224.3 134.2 226 140C227.7 145.8 231 151.7 232.5 157.5C234 163.3 235.4 168.8 235 175C234.6 181.2 233.3 188.3 230 195C226.7 201.7 221.7 209.2 215 215C208.3 220.8 199.2 225.8 190 230C180.8 234.2 170 237.7 160 240C150 242.3 139.2 244.8 130 244C120.8 243.2 112.5 239.8 105 235C97.5 230.2 91.2 222.5 85 215C78.8 207.5 72.1 198.3 67.5 190C62.9 181.7 59.4 172.2 57.5 165C55.6 157.8 55.1 152.5 56 147C56.9 141.5 59.8 137 63 132C66.2 127 70.8 121.8 75.5 117C80.2 112.2 86.2 107.1 91 103C95.8 98.9 99.8 95.8 104.5 92.5C109.2 89.2 113.1 86 119 83.5C124.9 81 132.3 78.1 140 77.5Z" fill="url(#cellg)"/><path d="M140 77.5C147.7 76.9 156.7 77.9 165 80C173.3 82.1 182.5 85.8 190 90C197.5 94.2 204.6 99.6 210 105C215.4 110.4 219.8 116.7 222.5 122.5C225.2 128.3 224.3 134.2 226 140C227.7 145.8 231 151.7 232.5 157.5C234 163.3 235.4 168.8 235 175C234.6 181.2 233.3 188.3 230 195C226.7 201.7 221.7 209.2 215 215C208.3 220.8 199.2 225.8 190 230C180.8 234.2 170 237.7 160 240C150 242.3 139.2 244.8 130 244C120.8 243.2 112.5 239.8 105 235C97.5 230.2 91.2 222.5 85 215C78.8 207.5 72.1 198.3 67.5 190C62.9 181.7 59.4 172.2 57.5 165C55.6 157.8 55.1 152.5 56 147C56.9 141.5 59.8 137 63 132C66.2 127 70.8 121.8 75.5 117C80.2 112.2 86.2 107.1 91 103C95.8 98.9 99.8 95.8 104.5 92.5C109.2 89.2 113.1 86 119 83.5C124.9 81 132.3 78.1 140 77.5Z" fill="url(#cellsh)" stroke="#6b5238" stroke-width="1.1"/><path d="M150 123C156.2 123.2 165.3 123.5 172 126C178.7 128.5 185.8 133.2 190 138C194.2 142.8 195.5 149.3 197 155C198.5 160.7 199.8 166.5 199 172C198.2 177.5 195.8 183.7 192 188C188.2 192.3 182.2 195.5 176 198C169.8 200.5 162.2 202.5 155 203C147.8 203.5 139.5 202.8 133 201C126.5 199.2 120.5 196 116 192C111.5 188 108.2 182.3 106 177C103.8 171.7 102.7 165.7 103 160C103.3 154.3 105.2 147.8 108 143C110.8 138.2 115.5 134 120 131C124.5 128 130 126.3 135 125C140 123.7 143.8 122.8 150 123Z" fill="url(#cnuc)" opacity="0.92"/><circle cx="122" cy="135" r="15" fill="url(#hl)"/><rect x="112.5" y="161" width="76.5" height="51" fill="none" stroke="#231f20" stroke-width="1.3"/><line x1="223.5" y1="100" x2="164" y2="142.5" stroke="#231f20" stroke-width="1"/><text x="146" y="67.3" font-size="20.5" fill="#272019" stroke="#272019" stroke-width="0.3" text-anchor="start" textLength="36.5" lengthAdjust="spacingAndGlyphs">Cell</text><text x="232.5" y="104.5" font-size="20.5" fill="#272019" stroke="#272019" stroke-width="0.3" text-anchor="start" textLength="77" lengthAdjust="spacingAndGlyphs">Nucleus</text><text x="1037.5" y="607.5" font-size="20.5" fill="#272019" stroke="#272019" stroke-width="0.3" text-anchor="start" textLength="73.5" lengthAdjust="spacingAndGlyphs">Nucleus</text><text x="1015" y="821" font-size="20.5" fill="#272019" stroke="#272019" stroke-width="0.3" text-anchor="start" textLength="96" lengthAdjust="spacingAndGlyphs">Cytoplasm</text></svg></body></html>
